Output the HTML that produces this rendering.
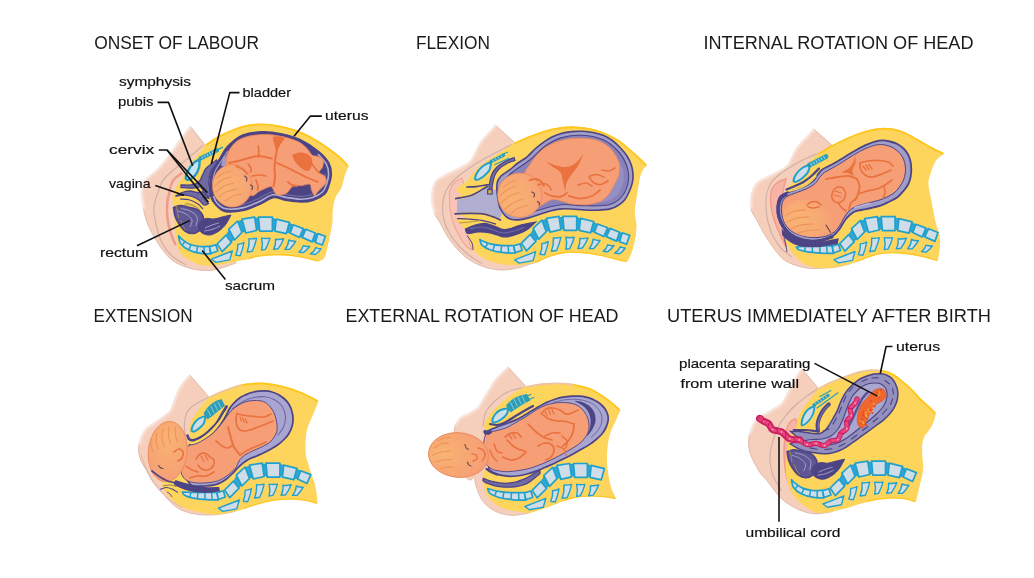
<!DOCTYPE html>
<html lang="en"><head><meta charset="utf-8"><title>Stages of labour</title>
<style>
html,body{margin:0;padding:0;background:#fff;}
body{width:1034px;height:578px;overflow:hidden;}
svg{display:block;}
text{font-family:"Liberation Sans",sans-serif;fill:#111;}
.t{font-size:17.6px;fill:#1a1a1a;}
.l{font-size:12.9px;stroke:#111;stroke-width:0.18px;}
</style></head><body>
<svg width="1034" height="578" viewBox="0 0 1034 578">
<defs>
<filter id="b1" x="-30%" y="-30%" width="160%" height="160%"><feGaussianBlur stdDeviation="1.3"/></filter>
<filter id="b2" x="-40%" y="-40%" width="180%" height="180%"><feGaussianBlur stdDeviation="1.5"/></filter>
<radialGradient id="hd" cx="0.32" cy="0.58" r="0.72"><stop offset="0" stop-color="#F8B373"/><stop offset="0.6" stop-color="#F7AA73"/><stop offset="1" stop-color="#F69F77"/></radialGradient>
<radialGradient id="hd4" cx="0.5" cy="0.3" r="0.72"><stop offset="0" stop-color="#F8B373"/><stop offset="0.55" stop-color="#F7A873"/><stop offset="1" stop-color="#F69F77"/></radialGradient>
<radialGradient id="hd5" cx="0.25" cy="0.5" r="0.72"><stop offset="0" stop-color="#F8B373"/><stop offset="0.5" stop-color="#F7A873"/><stop offset="1" stop-color="#F69F77"/></radialGradient>
</defs>
<rect width="1034" height="578" fill="#fff"/>
<!-- p1 -->
<g><path d="M190 126C188.3 128.2 183.2 134.7 180 139C176.8 143.3 173.8 148.1 171 152C168.2 155.9 165.7 159.3 163 162.5C160.3 165.7 157.8 168.4 155 171C152.2 173.6 148.7 175.7 146.5 178C144.3 180.3 142.9 182 142 185C141.1 188 140.8 192.2 141 196C141.2 199.8 141.8 203.2 143 208C144.2 212.8 145.8 219.7 148 225C150.2 230.3 153.2 235.3 156 240C158.8 244.7 162 249.4 165 253C168 256.6 170.5 259.2 174 261.5C177.5 263.8 182 265.6 186 267C190 268.4 193.8 269.4 198 270C202.2 270.6 206.8 270.7 211 270.3C215.2 269.9 219.2 268.6 223.4 267.4C227.6 266.2 233.9 263.7 236 263L236 250C231.7 241.7 215 217.3 210 200C205 182.7 206.7 155 206 146L190 126Z" fill="#F6CFBC" stroke="#DDB8A8" stroke-width="0.9" stroke-linejoin="round"/><path d="M188.7 125.3C187 127.5 181.9 134 178.7 138.3C175.5 142.6 172.5 147.4 169.7 151.3C166.9 155.2 164.4 158.6 161.7 161.8C159 165 156.4 167.7 153.7 170.3C150.9 172.9 147.4 175 145.2 177.3C143 179.6 141.6 181.3 140.7 184.3C139.8 187.3 139.5 191.5 139.7 195.3C139.9 199.1 141.4 205.3 141.7 207.3" fill="none" stroke="#fff" stroke-width="4.6" filter="url(#b2)" stroke-linecap="round" stroke-opacity="0.9"/><path d="M203.2 145.3C200.2 147.8 190.6 156.2 185.5 160.4C180.4 164.6 176.7 167.1 172.9 170.5C169.1 173.9 165.3 176.8 162.8 180.6C160.3 184.3 159.2 188.6 157.7 193C156.2 197.4 154.4 202.2 154 207C153.6 211.8 154.2 216 155.5 222C156.8 228 159.2 237.3 162 243C164.8 248.7 168 252.3 172 256C176 259.7 183.7 263.5 186 265" fill="none" stroke="#D0B0A4" stroke-width="1.2"/><path d="M181.5 173.3C180.2 174.3 175.7 177.3 173.9 179.4C172.1 181.5 171.6 183.4 170.8 185.7C170 188 169.8 190.6 169.3 193C168.8 195.4 168 197.1 167.6 200C167.2 202.9 166.9 206.5 167 210.3C167.1 214.1 167.4 218.7 168.2 222.9C169 227.1 170.4 231.9 171.6 235.5C172.8 239.1 174.8 242.9 175.4 244.4" fill="none" stroke="#F09A88" stroke-width="2.5" stroke-linecap="round"/><path d="M205.8 144.6C207.3 143.6 211.8 140.2 215 138.3C218.2 136.4 220.2 135.1 225 133C229.8 130.9 237.7 127.1 244 125.6C250.3 124 256.6 123.6 262.9 123.7C269.2 123.8 275.6 124.8 281.9 126.2C288.2 127.6 294.5 129.3 300.8 131.9C307.1 134.5 313.5 138 319.8 142C326.1 146 333.9 151.9 338.7 155.9C343.5 159.9 347.1 164.3 348.8 166C348.2 167.5 346.3 171.2 345 174.9C343.7 178.6 342.8 184.2 341.2 188C339.6 191.8 336.9 193.9 335.5 197.6C334.1 201.3 333.3 206.1 332.8 210.3C332.3 214.5 332.9 218.7 332.4 222.9C331.9 227.1 330.9 231.3 330 235.5C329.1 239.7 328.2 244.4 327.3 248.2C326.4 251.9 325.8 255.8 324.3 258C322.8 260.2 319.5 260.9 318.5 261.5C315.4 260.8 306.6 258.2 300 257.2C293.4 256.1 286.1 255.3 279 255.2C271.9 255.1 262.8 255.9 257.7 256.6C252.6 257.3 252.3 258.4 248.7 259.2C245.1 260 239.9 260.6 236.1 261.3C232.3 262 229.8 262.9 226 263.6C222.2 264.3 217.5 265.3 213.3 265.5C209.1 265.7 204.9 265.9 200.7 264.9C196.5 263.8 191.5 261.4 188 259.2C184.5 257 181.5 254.8 179.6 251.6C177.7 248.4 177.6 244.3 176.7 240.3C175.8 236.3 174.8 231.8 174.4 227.6C174.1 223.4 174.9 219.3 174.6 215C174.3 210.7 173 205.2 172.7 202C172.4 198.8 172.5 197.9 172.8 196C173.1 194.1 173.6 192.7 174.5 190.5C175.4 188.3 176.8 185.3 178.3 183C179.8 180.7 181.7 179.1 183.4 176.6C185.1 174.1 187 170.3 188.4 168C189.8 165.7 190.3 164.8 191.9 162.5C193.5 160.2 195.9 157.1 198.2 154.1C200.5 151.1 204.5 146.2 205.8 144.6Z" fill="#FDD45C"/><path d="M205.8 145.2C207.3 144.1 211.8 140.8 215 138.9C218.2 137 220.2 135.7 225 133.6C229.8 131.5 237.7 127.8 244 126.3C250.3 124.8 256.6 124.3 262.9 124.4C269.2 124.5 275.6 125.5 281.9 126.9C288.2 128.3 294.5 130 300.8 132.6C307.1 135.2 313.5 138.7 319.8 142.7C326.1 146.7 334 152.6 338.7 156.5C343.4 160.4 346.4 164.4 348 166" fill="none" stroke="#FFC61C" stroke-width="1.8"/><path d="M318 261C315 260.3 306.5 257.8 300 256.7C293.5 255.6 286.1 254.8 279 254.7C271.9 254.6 262.8 255.4 257.7 256.1C252.6 256.8 250.2 258.3 248.7 258.7" fill="none" stroke="#FFC61C" stroke-width="1.2"/><g><path d="M178.6 235.8C178.9 237.1 178.9 241 180.5 243.4C182.1 245.7 184.9 248.2 188.3 249.8C191.6 251.5 196.7 252.8 200.5 253.4C204.3 254.1 209.1 253.7 210.8 253.8L209.5 246.3C207.9 246.3 203 246.9 199.6 246.5C196.2 246.1 192.1 245.2 189.1 244C186.1 242.7 183.4 240.3 181.7 239C179.9 237.6 179.1 236.3 178.6 235.8Z" fill="#CEDDE7" stroke="#22A0CC" stroke-width="1.7" stroke-linejoin="round"/><path d="M185.1 241.3L182.4 244.9" fill="none" stroke="#22A0CC" stroke-width="1.5"/><path d="M191 244.4L188.8 250" fill="none" stroke="#22A0CC" stroke-width="1.5"/><path d="M197.6 246L196.6 252.3" fill="none" stroke="#22A0CC" stroke-width="1.5"/><path d="M204 246.4L204.3 253.6" fill="none" stroke="#22A0CC" stroke-width="1.5"/><path d="M209.5 246.6L215.9 244.7L217.8 251L210.8 253.5L209.5 246.6Z" fill="#CEDDE7" stroke="#22A0CC" stroke-width="1.7" stroke-linejoin="round"/><path d="M217.1 244L226 235.2L231.6 242.2L222.2 251.6L217.1 244Z" fill="#CEDDE7" stroke="#22A0CC" stroke-width="1.7" stroke-linejoin="round"/><path d="M226.4 235.8L229.3 230.1L233.9 238.9L231 241.5Z" fill="#2FA6D6" stroke="#22A0CC" stroke-width="1.2" stroke-linejoin="round"/><path d="M238 221.9L242.3 220.2L245.4 231.6L241.6 231.3Z" fill="#2FA6D6" stroke="#22A0CC" stroke-width="1.2" stroke-linejoin="round"/><path d="M254.9 218.3L258.6 218.3L259.6 229.7L256.4 229.2Z" fill="#2FA6D6" stroke="#22A0CC" stroke-width="1.2" stroke-linejoin="round"/><path d="M272.4 218.3L276.1 220.1L275 229.9L272.4 229.7Z" fill="#2FA6D6" stroke="#22A0CC" stroke-width="1.2" stroke-linejoin="round"/><path d="M289.2 223.2L293 225.5L290.4 232.2L286.6 232.5Z" fill="#2FA6D6" stroke="#22A0CC" stroke-width="1.2" stroke-linejoin="round"/><path d="M303 229.3L305.6 229.9L302.5 236.6L299.9 236.5Z" fill="#2FA6D6" stroke="#22A0CC" stroke-width="1.2" stroke-linejoin="round"/><path d="M315.1 233.7L317.7 234.3L315.6 241.6L312.5 241Z" fill="#2FA6D6" stroke="#22A0CC" stroke-width="1.2" stroke-linejoin="round"/><path d="M228.8 229.2L237.6 221L242 232.4L234.5 240L228.8 229.2Z" fill="#CEDDE7" stroke="#22A0CC" stroke-width="1.7" stroke-linejoin="round"/><path d="M242 219.1L254.7 217.2L256.6 230.5L245.8 233L242 219.1Z" fill="#CEDDE7" stroke="#22A0CC" stroke-width="1.7" stroke-linejoin="round"/><path d="M258.5 217.2L272.4 217.2L272.4 231.1L259.7 231.1L258.5 217.2Z" fill="#CEDDE7" stroke="#22A0CC" stroke-width="1.7" stroke-linejoin="round"/><path d="M276.2 219.1L289.4 222.3L286.3 233.6L274.9 231.1L276.2 219.1Z" fill="#CEDDE7" stroke="#22A0CC" stroke-width="1.7" stroke-linejoin="round"/><path d="M293.2 224.8L303.3 228.6L299.5 237.4L290.1 233L293.2 224.8Z" fill="#CEDDE7" stroke="#22A0CC" stroke-width="1.7" stroke-linejoin="round"/><path d="M305.9 229.2L315.3 233L312.2 241.9L302.1 237.4L305.9 229.2Z" fill="#CEDDE7" stroke="#22A0CC" stroke-width="1.7" stroke-linejoin="round"/><path d="M317.9 233.6L325.4 236.2L322.3 245L315.3 242.5L317.9 233.6Z" fill="#CEDDE7" stroke="#22A0CC" stroke-width="1.7" stroke-linejoin="round"/><path d="M237.6 244.4Q240.8 244.2 244 242.5Q242.9 249.2 240.2 255.7L235.7 255.1Q238.2 250 237.6 244.4Z" fill="#CEDDE7" stroke="#22A0CC" stroke-width="1.4" stroke-linejoin="round"/><path d="M249 238.7Q252.8 239.2 256.6 238.1Q255.2 244.8 252.2 251.3L247.1 252Q249.6 245.6 249 238.7Z" fill="#CEDDE7" stroke="#22A0CC" stroke-width="1.4" stroke-linejoin="round"/><path d="M261.6 238.1Q265.8 238.9 269.9 238.1Q268.4 243.8 265.4 249.4L261.6 250.1Q263.2 244.1 261.6 238.1Z" fill="#CEDDE7" stroke="#22A0CC" stroke-width="1.4" stroke-linejoin="round"/><path d="M275.5 239.3Q279.6 239.8 283.7 238.7Q281.7 243.9 278.1 248.8L273.6 249.4Q276.1 244.6 275.5 239.3Z" fill="#CEDDE7" stroke="#22A0CC" stroke-width="1.4" stroke-linejoin="round"/><path d="M288.8 240Q292.3 241.4 295.8 241.2Q293.3 245.6 289.4 249.4L285 249.4Q288.4 245.3 288.8 240Z" fill="#CEDDE7" stroke="#22A0CC" stroke-width="1.4" stroke-linejoin="round"/><path d="M303.3 245.6Q306.5 246.8 309.7 246.3Q307.2 249.9 303.3 252.6L298.9 252Q302.4 249.7 303.3 245.6Z" fill="#CEDDE7" stroke="#22A0CC" stroke-width="1.4" stroke-linejoin="round"/><path d="M316 247.5Q318.5 249 321 248.8Q318.7 252.2 315.3 254.5L310.3 253.9Q314.3 251.8 316 247.5Z" fill="#CEDDE7" stroke="#22A0CC" stroke-width="1.4" stroke-linejoin="round"/><path d="M211.4 259.2L222 255L232.3 251L229.8 259.9L215.9 262.4L211.4 259.2Z" fill="#CEDDE7" stroke="#22A0CC" stroke-width="1.4" stroke-linejoin="round"/></g><g><path d="M173.5 207.5C174.6 207.2 177.2 205.5 180 205.5C182.8 205.5 187 206.8 190 207.5C193 208.2 195.8 208.6 198 210C200.2 211.4 202.2 213.7 203 216C203.8 218.3 203.2 221.5 202.5 224C201.8 226.5 200.8 229.4 199 231C197.2 232.6 194.3 233.5 192 233.5C189.7 233.5 187.2 232.6 185 231C182.8 229.4 180.7 226.5 179 224C177.3 221.5 175.9 218.8 175 216C174.1 213.2 173.8 208.9 173.5 207.5Z" fill="#5E5793" stroke="#4C4485" stroke-width="1.6"/><path d="M231 215C230.2 216.5 228 221.3 226 224C224 226.7 221.7 229.2 219 231C216.3 232.8 212.8 234.7 210 235C207.2 235.3 203.9 234.2 202 233C200.1 231.8 198.8 229.8 198.5 228C198.2 226.2 198.8 223.6 200 222C201.2 220.4 203.7 219 206 218.5C208.3 218 211.3 219.2 214 219C216.7 218.8 219.2 217.7 222 217C224.8 216.3 229.5 215.3 231 215Z" fill="#4C4485" stroke="#4C4485" stroke-width="1"/><path d="M178 211C179.3 211.5 183.7 212.5 186 214C188.3 215.5 191.3 217.8 192 220C192.7 222.2 190.3 225.8 190 227" fill="none" stroke="#A09DC8" stroke-width="1"/><path d="M181 208.5C182.5 208.9 187.3 209.6 190 211C192.7 212.4 196 214.5 197 217C198 219.5 196.2 224.5 196 226" fill="none" stroke="#A09DC8" stroke-width="1"/><path d="M205 228C206.2 227.5 209.7 225.8 212 225C214.3 224.2 217.8 223.3 219 223" fill="none" stroke="#A09DC8" stroke-width="1"/><path d="M204 231C205.3 230.8 209.3 230.3 212 229.5C214.7 228.7 218.7 226.6 220 226" fill="none" stroke="#A09DC8" stroke-width="1"/><path d="M176 206C176.2 207 177.1 210 177.5 212C177.9 214 178.3 217 178.5 218" fill="none" stroke="#B9973F" stroke-width="0.8"/><path d="M184 204C185.3 204.2 189.5 204.8 192 205.5C194.5 206.2 197.8 208 199 208.5" fill="none" stroke="#B9973F" stroke-width="0.8"/><path d="M186 230.5C185.5 229.8 183.9 227.8 183 226C182.1 224.2 180.9 221 180.5 220" fill="none" stroke="#B9973F" stroke-width="0.8"/></g><path d="M175.5 196.3C176.9 196.1 181.2 195 184 195C186.8 195 189.5 195.7 192 196.5C194.5 197.3 197 198.6 199 200C201 201.4 202.4 204.4 204 205C205.6 205.6 207.8 203.8 208.5 203.5C207.6 202.4 202.9 197.8 203 197C203.1 196.2 208 198.2 209 198.5C208.3 197.4 206.8 193 205 192C203.2 191 200.5 192.7 198 192.5C195.5 192.3 192.7 191 190 191C187.3 191 184.4 191.6 182 192.5C179.6 193.4 176.6 195.7 175.5 196.3Z" fill="#6F6AA3" stroke="#4C4485" stroke-width="1.3"/><path d="M180 199C181.7 199.2 187 199.2 190 200C193 200.8 195.8 202.5 198 204C200.2 205.5 202.2 208.2 203 209" fill="none" stroke="#4C4485" stroke-width="1.2"/><path d="M186 203C187.3 203.4 191.7 204.3 194 205.5C196.3 206.7 199 209.2 200 210" fill="none" stroke="#A79245" stroke-width="0.9"/><path d="M216.5 160C215.8 160.6 213.8 162.1 212 163.5C210.2 164.9 207.6 166.6 206 168.5C204.4 170.4 203.6 172.9 202.5 175C201.4 177.1 201.1 179.4 199.5 181C197.9 182.6 196.1 184 193 184.7C189.9 185.4 183 184.9 181 185L181 187.5C183 187.6 189.8 188.3 193 188.2C196.2 188.1 198.2 186.4 200 187C201.8 187.6 202.6 190.3 204 192C205.4 193.7 207.4 197 208.5 197C209.6 197 210.4 194.2 210.5 192C210.6 189.8 209.2 186.7 209 184C208.8 181.3 209 178.5 209.5 176C210 173.5 210.6 171.2 212 169C213.4 166.8 217 164 218 163L216.5 160Z" fill="#6F6AA3" stroke="#4C4485" stroke-width="1.3"/><path d="M199.6 159.6C199.5 160.9 199.8 164.8 199 167.5C198.2 170.2 196.7 173.5 195 175.5C193.3 177.5 190.5 179.1 189 179.6C187.5 180.1 186 179.7 185.8 178.3C185.6 176.9 186.7 173.6 188 171C189.3 168.4 191.6 164.9 193.5 163C195.4 161.1 198.6 160.2 199.6 159.6Z" fill="#C6E2F2" stroke="#2499BE" stroke-width="2.4"/><path d="M200.5 158.3L217 150.3" fill="none" stroke="#2A9DBA" stroke-width="4.2" stroke-linecap="round"/><path d="M201.7 156.2L202.9 158.6" fill="none" stroke="#A9DCEA" stroke-width="1"/><path d="M204.3 155L205.5 157.4" fill="none" stroke="#A9DCEA" stroke-width="1"/><path d="M206.9 153.7L208 156.1" fill="none" stroke="#A9DCEA" stroke-width="1"/><path d="M209.5 152.5L210.6 154.9" fill="none" stroke="#A9DCEA" stroke-width="1"/><path d="M212 151.2L213.2 153.6" fill="none" stroke="#A9DCEA" stroke-width="1"/><path d="M214.6 150L215.8 152.4" fill="none" stroke="#A9DCEA" stroke-width="1"/><path d="M214 151.5L222.5 147.3" fill="none" stroke="#2A9DBA" stroke-width="1.3" stroke-linecap="round"/><path d="M210.1 183.1C210.4 178.9 210.9 174.6 212.6 170.4C214.3 166.2 217.7 161.8 220.2 157.8C222.7 153.8 223.9 150.2 227.7 146.4C231.5 142.6 237.2 137.5 242.9 135.1C248.6 132.7 255.6 132.1 261.9 131.9C268.2 131.7 274.5 132.5 280.8 133.8C287.1 135.1 293.5 136.6 299.8 139.5C306.1 142.4 313.9 147.6 318.7 151.5C323.5 155.4 326.7 159.1 328.8 162.9C330.9 166.7 331.3 170.4 331.3 174.2C331.3 178 329.9 182.3 328.8 185.6C327.7 188.9 327.4 191.4 324.8 193.8C322.2 196.2 317.4 198.8 313.4 200.2C309.4 201.6 305.4 202 300.8 202C296.2 202 290.2 200.9 285.6 200.2C281 199.5 277.2 197 273 197.6C268.8 198.2 265.2 201.9 260.4 204C255.6 206.1 249.9 209.1 244 210.3C238.1 211.6 229.8 212.6 225 211.5C220.2 210.4 217.5 206.6 215.1 204C212.7 201.4 211.5 199.2 210.7 195.7C209.9 192.2 209.8 187.3 210.1 183.1Z" fill="#4C4485" stroke="#4C4485" stroke-width="1.6"/><path d="M213.5 196C214.1 197.2 214.9 200.9 217 203C219.1 205.1 221.6 208 226 208.8C230.4 209.6 237.9 208.8 243.5 207.6C249.1 206.4 254.6 203.5 259.5 201.4C264.4 199.3 268.4 195.5 272.8 194.8C277.2 194.1 281.3 196.7 286 197.4C290.7 198.1 296.4 199.2 300.8 199.2C305.2 199.2 308.9 198.7 312.5 197.5C316.1 196.3 320.2 194.2 322.5 192C324.8 189.8 325.5 187.5 326.5 184.5C327.5 181.5 328.6 177.6 328.6 174.2C328.6 170.8 328.1 167.4 326.3 164C324.5 160.6 319.4 155.7 318 154" fill="none" stroke="#B3B0D5" stroke-width="1.6"/><path d="M216.5 194C217.1 195 218.2 198.1 220 200C221.8 201.9 223.2 204.7 227 205.5C230.8 206.3 237.8 205.8 243 204.6C248.2 203.4 253.6 200.7 258.5 198.6C263.4 196.5 267.8 192.5 272.5 191.8C277.2 191.1 281.8 193.8 286.5 194.6C291.2 195.3 296.6 196.3 300.8 196.3C305 196.3 308.3 195.7 311.5 194.6C314.7 193.5 317.9 191.4 320 189.5C322.1 187.6 322.9 185.6 323.8 183C324.7 180.4 325.3 175.7 325.6 174.2" fill="none" stroke="#6F6AA3" stroke-width="1.3"/><path d="M212.5 183C212.9 181.1 213.4 175.3 215 171.5C216.6 167.7 219.8 163.4 222 160C224.2 156.6 227 152.5 228 151" fill="none" stroke="#A09DC8" stroke-width="1.2"/><path d="M222.5 158.5L229.5 153.5C229.7 154.6 231.1 157.8 230.5 160C229.9 162.2 226.8 165.4 226 166.5L221 166L222.5 158.5Z" fill="#A09DC8"/><path d="M314.5 196C314 195 312.3 191.9 311.5 190C310.7 188.1 311.5 185.1 309.9 184.3C308.3 183.6 304.8 185.2 302 185.5C299.2 185.8 295.6 185.2 293.4 186C291.2 186.8 290.2 189.2 289 190.5C287.8 191.8 287.4 192.8 285.9 193.6C284.4 194.3 281.7 194.9 280 195C278.3 195.1 276.5 194.5 275.8 194.4C275.4 193.7 274.3 191.3 273.5 190C272.7 188.7 272.6 186.7 271 186.5C269.4 186.3 266.1 188.1 264 189C261.9 189.9 260.2 190.8 258.1 191.9C256.1 193 254.7 196 251.7 195.7C248.7 195.4 243.9 193.4 240 190C236.1 186.6 230.2 180.2 228 175C225.8 169.8 226.2 162.8 226.5 158.5C226.8 154.2 228.3 151.8 230 149C231.7 146.2 233.9 143.4 236.6 141.4C239.3 139.4 242.8 138.1 246 137C249.2 135.9 251.8 135.5 255.5 135.1C259.2 134.7 263.8 134.3 268 134.5C272.2 134.7 277 135.6 280.8 136.3C284.6 137.1 287.8 137.9 291 139C294.2 140.1 297.1 141 299.8 142.6C302.5 144.2 304.9 146.4 307 148.5C309.1 150.6 310.6 154 312.4 155.3C314.2 156.6 316.2 155.7 318 156.5C319.8 157.3 322.2 158.2 323 160C323.8 161.8 323.2 164.9 322.5 167C321.8 169.1 318.7 171 319 172.5C319.3 174 323.3 174.4 324.5 176C325.7 177.6 326.7 180.1 326.3 182C325.9 183.9 323.3 186.1 322 187.5C320.7 188.9 319.9 189.1 318.7 190.5C317.4 191.9 315.2 195.1 314.5 196Z" fill="#F69F77" stroke="#EE8552" stroke-width="0.8"/><ellipse cx="232.2" cy="185.8" rx="19.8" ry="21.3" fill="url(#hd)" stroke="#EE8552" stroke-width="0.7"/><path d="M292 155C293.2 154.6 296.7 152.8 299 152.5C301.3 152.2 303.9 152.6 306 153.5C308.1 154.4 310.5 156.1 311.5 158C312.5 159.9 312.6 162.8 312 165C311.4 167.2 309.8 170.5 308 171C306.2 171.5 303.2 169.6 301 168C298.8 166.4 296.5 163.7 295 161.5C293.5 159.3 292.5 156.1 292 155Z" fill="#E9723F"/><path d="M272.5 137C273.4 136.9 275.9 136.1 278 136.3C280.1 136.5 283.8 137.7 285 138C284.1 139.3 280.9 143.5 279.5 146C278.1 148.5 277.2 151.8 276.8 153C276.4 151.7 275.2 147.7 274.5 145C273.8 142.3 272.8 138.3 272.5 137Z" fill="#E9723F"/><path d="M229 163C230.8 162.6 236.3 161.4 240 160.5C243.7 159.6 247.8 158.2 251 157.5C254.2 156.8 255.5 155.8 259 156C262.5 156.2 269.8 158.1 272 158.5" fill="none" stroke="#E9723F" stroke-width="2" stroke-linecap="round"/><path d="M258.3 146C258.4 146.8 258.8 149.2 258.8 151C258.8 152.8 258.6 156 258.5 157" fill="none" stroke="#E9723F" stroke-width="1.7" stroke-linecap="round"/><path d="M276.8 150C276.6 151.3 275.9 155 275.5 158C275.1 161 274.6 164.7 274.5 168C274.4 171.3 275.2 175 275 178C274.8 181 273.8 184.7 273.5 186" fill="none" stroke="#E9723F" stroke-width="2.1" stroke-linecap="round"/><path d="M277 163C278.5 163.7 282.7 165.4 286 167C289.3 168.6 293.3 170.7 297 172.5C300.7 174.3 304.5 176.4 308 178C311.5 179.6 316.3 181.3 318 182" fill="none" stroke="#E9723F" stroke-width="1.8" stroke-linecap="round"/><path d="M248 164C248.5 164.7 250.6 166.7 251 168C251.4 169.3 250.6 171.3 250.5 172" fill="none" stroke="#E9723F" stroke-width="1.6" stroke-linecap="round"/><path d="M252 176C253.2 175.8 256.7 175 259 175C261.3 175 264.8 175.8 266 176" fill="none" stroke="#E9723F" stroke-width="1.6" stroke-linecap="round"/><path d="M256 180C256.3 181 257.8 184.3 258 186C258.2 187.7 257.6 189.3 257.5 190" fill="none" stroke="#E9723F" stroke-width="1.8" stroke-linecap="round"/><path d="M288 182C288.7 182.5 290.5 184.3 292 185C293.5 185.7 296.2 185.8 297 186" fill="none" stroke="#E9723F" stroke-width="2.1" stroke-linecap="round"/><path d="M311 163C311.7 163.8 313.8 166.5 315 168C316.2 169.5 317.5 171.3 318 172" fill="none" stroke="#E9723F" stroke-width="1.7" stroke-linecap="round"/><path d="M236 166C237.2 166.6 241.2 168.2 243 169.5C244.8 170.8 246.3 173.2 247 174" fill="none" stroke="#E9723F" stroke-width="1.6" stroke-linecap="round"/><path d="M244.5 176C244.9 176.3 246.5 177.2 246.8 178C247.1 178.8 246.6 180.5 246.5 181" fill="none" stroke="#6B4A4A" stroke-width="1.2" stroke-linecap="round"/><path d="M250.5 185C250.8 185.3 252.2 186.2 252.5 187C252.8 187.8 252.1 189.1 252 189.5" fill="none" stroke="#6B4A4A" stroke-width="1.2" stroke-linecap="round"/><path d="M215 186C216.2 185 219.3 181.5 222 180C224.7 178.5 229.5 177.5 231 177" fill="none" stroke="#EE9458" stroke-width="1.1" stroke-linecap="round"/><path d="M216 192C217.3 191 221 187.5 224 186C227 184.5 232.3 183.5 234 183" fill="none" stroke="#EE9458" stroke-width="1.1" stroke-linecap="round"/><path d="M219 197C220.3 196.1 224 192.8 227 191.5C230 190.2 235.3 189.4 237 189" fill="none" stroke="#EE9458" stroke-width="1.1" stroke-linecap="round"/><path d="M225 201C226.2 200.2 229.3 197.7 232 196.5C234.7 195.3 239.5 194.4 241 194" fill="none" stroke="#EE9458" stroke-width="1.1" stroke-linecap="round"/><path d="M217 178C218 177.2 220.8 174.6 223 173.5C225.2 172.4 228.8 171.8 230 171.5" fill="none" stroke="#EE9458" stroke-width="1.1" stroke-linecap="round"/><polyline points="157.5,102.4 168.5,102.4 192.7,165.7" fill="none" stroke="#111" stroke-width="1.6" stroke-linejoin="round"/><polyline points="239.5,92.6 229.8,92.6 211.3,164" fill="none" stroke="#111" stroke-width="1.6" stroke-linejoin="round"/><polyline points="321.9,116.1 310.5,116.1 294,136.2" fill="none" stroke="#111" stroke-width="1.6" stroke-linejoin="round"/><polyline points="158.8,150 167,150 208.4,202.2" fill="none" stroke="#111" stroke-width="1.6" stroke-linejoin="round"/><polyline points="167,150 207.4,192.6" fill="none" stroke="#111" stroke-width="1.6" stroke-linejoin="round"/><polyline points="155.3,185.4 184,195.3" fill="none" stroke="#111" stroke-width="1.6" stroke-linejoin="round"/><polyline points="137,245.8 189.6,220.6" fill="none" stroke="#111" stroke-width="1.6" stroke-linejoin="round"/><polyline points="225.4,279.6 202.2,250.6" fill="none" stroke="#111" stroke-width="1.6" stroke-linejoin="round"/></g>
<!-- p2 -->
<g><path d="M495.2 124.9C493.8 126.4 489.5 131.2 487 134C484.5 136.8 482.3 138.9 480.3 141.9C478.3 144.9 476.8 148.8 475 152C473.2 155.2 472.5 158.3 469.7 161C466.9 163.7 461.9 165.9 458 168C454.1 170.1 450 171.8 446.3 173.8C442.6 175.8 438.4 177.3 436 180C433.6 182.7 432.8 186.1 432 190C431.2 193.9 431.1 199.8 431.4 203.6C431.7 207.4 432.6 209.8 434 213C435.4 216.2 437.9 219.1 439.9 222.6C441.9 226.1 443.9 230.5 446 234C448.1 237.5 450.4 240.8 452.7 243.8C455 246.8 457.5 249.5 460 252C462.5 254.5 464.6 256.6 467.6 258.7C470.6 260.8 474.5 262.9 478 264.5C481.5 266.1 485.1 267.4 488.8 268.3C492.5 269.2 496.4 269.8 500 270C503.6 270.2 506.8 269.8 510.1 269.4C513.4 269 517.2 268.2 520 267.5C522.8 266.8 523.8 266.2 527.1 265.1C530.4 264 537.9 261.7 540 261L540 250C535.8 241.7 519.2 217.8 515 200C510.8 182.2 515 152.5 515 143L495.2 124.9Z" fill="#F6CFBC" stroke="#DDB8A8" stroke-width="0.9" stroke-linejoin="round"/><path d="M493.9 124.2C492.5 125.7 488.2 130.5 485.7 133.3C483.2 136.1 481 138.2 479 141.2C477 144.2 475.5 148.1 473.7 151.3C471.9 154.5 471.2 157.6 468.4 160.3C465.6 163 460.6 165.2 456.7 167.3C452.8 169.4 448.7 171.1 445 173.1C441.3 175.1 437.1 176.6 434.7 179.3C432.3 182 431.5 185.4 430.7 189.3C429.9 193.2 429.8 199.1 430.1 202.9C430.4 206.7 432.3 210.7 432.7 212.3" fill="none" stroke="#fff" stroke-width="4.6" filter="url(#b2)" stroke-linecap="round" stroke-opacity="0.9"/><path d="M512 144.5C509.5 145.8 502.2 149.3 497 152C491.8 154.7 486.1 157.5 481 160.5C475.9 163.5 471 166.8 466.5 170C462 173.2 457.5 176.3 454 180C450.5 183.7 447.4 187.5 445.5 192C443.6 196.5 442.8 202 442.6 207C442.4 212 443.3 217.5 444.5 222C445.7 226.5 447.6 230 450 234C452.4 238 455.7 242.3 459 246C462.3 249.7 466.2 253.1 470 256C473.8 258.9 480 262.2 482 263.5" fill="none" stroke="#D0B0A4" stroke-width="1.2"/><path d="M462 178C460.8 178.7 457 180 455 182C453 184 450.9 187 450 190C449.1 193 449.4 196.3 449.5 200C449.6 203.7 449.8 207.8 450.5 212C451.2 216.2 452.4 220.8 454 225C455.6 229.2 458 233.5 460 237C462 240.5 464 243.8 466 246C468 248.2 470.8 249.3 471.8 250C471.2 247.5 469 240.8 468 235C467 229.2 466.3 221.7 466 215C465.7 208.3 466.7 201.2 466 195C465.3 188.8 462.7 180.8 462 178Z" fill="#F8C4B7" stroke="#F2A798" stroke-width="1.2"/><path d="M514.4 143C517.2 141.8 525 137.9 531.4 135.5C537.8 133.1 545.6 130.2 552.7 128.7C559.8 127.2 566.9 126.4 574 126.6C581.1 126.8 588.1 127.6 595.2 129.6C602.3 131.6 610.1 134.9 616.5 138.7C622.9 142.5 628.4 148.2 633.5 152.6C638.6 157 644.8 162.9 647 165C646 166.5 642.5 169.7 641 174C639.5 178.3 638.8 184.3 637.8 190.6C636.8 196.9 635 206.2 634.8 211.9C634.6 217.6 636.5 220.3 636.5 225C636.5 229.7 635.8 235.3 635 240C634.2 244.7 632.8 249.3 631.5 253C630.2 256.7 627.8 260.5 627.1 262C625.6 261.7 622.3 261.1 618 260.1C613.7 259.1 607 257.1 601.5 256C596 254.9 590.6 254.1 585.1 253.5C579.6 252.9 574.2 252.3 568.7 252.7C563.2 253.1 557.7 254.4 552.2 256C546.7 257.6 540.3 261.1 535.8 262.5C531.3 263.9 528.6 264.2 525 264.6C521.4 265 518.6 265.2 514.4 265.1C510.1 265 504.5 265.1 499.5 264C494.5 262.9 488.7 260.7 484.6 258.7C480.5 256.7 477.4 254.4 475 252C472.6 249.6 471.7 247.1 470.5 244C469.3 240.9 469 236.2 467.6 233.2C466.2 230.2 464 228.3 462 226C460 223.7 456.6 220.6 455.5 219.5C457.2 219.2 466.1 218.4 466 217.5C465.9 216.6 456.8 214.8 455 214.2C456.2 212.8 461.9 208.8 462 206C462.1 203.2 456.4 199 455.3 197.6C456.2 197.1 460.8 195.5 461 194.5C461.2 193.5 457.2 192 456.5 191.5C456.8 190.8 456.6 188.9 458.5 187C460.4 185.1 464.3 183.5 467.6 180.2C470.9 176.9 473.6 171.5 478.2 167.4C482.8 163.3 489.2 159.8 495.2 155.7C501.2 151.6 511.2 145.1 514.4 143Z" fill="#FDD45C"/><path d="M514.4 143.6C517.2 142.3 525 138.5 531.4 136.1C537.8 133.7 545.6 130.9 552.7 129.4C559.8 127.9 566.9 127.1 574 127.3C581.1 127.5 588.1 128.3 595.2 130.3C602.3 132.3 610.1 135.6 616.5 139.4C622.9 143.2 628.6 148.9 633.5 153.2C638.4 157.5 643.9 163 646 165" fill="none" stroke="#FFC61C" stroke-width="1.8"/><path d="M626 261.5C624.7 261.2 622.1 260.6 618 259.6C613.9 258.6 607 256.6 601.5 255.5C596 254.4 590.6 253.6 585.1 253C579.6 252.4 574.2 251.8 568.7 252.2C563.2 252.6 557.7 253.9 552.2 255.5C546.7 257.1 538.5 260.9 535.8 262" fill="none" stroke="#FFC61C" stroke-width="1.2"/><g transform="translate(304.3 -0.8)" ><path d="M175.6 240.3C176 241.2 176 244.2 177.7 246C179.5 247.7 182.5 249.6 186.2 250.8C189.8 252.1 195.4 253 199.5 253.5C203.6 254 208.9 253.8 210.8 253.8L209.5 246.3C207.7 246.3 202.4 246.6 198.7 246.4C194.9 246.2 190.4 245.7 187.1 245C183.8 244.3 180.9 242.9 179 242.1C177.1 241.3 176.2 240.6 175.6 240.3Z" fill="#CEDDE7" stroke="#22A0CC" stroke-width="1.7" stroke-linejoin="round"/><path d="M183.6 243.7L181.3 248" fill="none" stroke="#22A0CC" stroke-width="1.5"/><path d="M190.4 245.4L188.6 251.3" fill="none" stroke="#22A0CC" stroke-width="1.5"/><path d="M197.3 246.2L196.6 252.9" fill="none" stroke="#22A0CC" stroke-width="1.5"/><path d="M203.9 246.4L204.3 253.6" fill="none" stroke="#22A0CC" stroke-width="1.5"/><path d="M209.5 246.6L215.9 244.7L217.8 251L210.8 253.5L209.5 246.6Z" fill="#CEDDE7" stroke="#22A0CC" stroke-width="1.7" stroke-linejoin="round"/><path d="M217.1 244L226 235.2L231.6 242.2L222.2 251.6L217.1 244Z" fill="#CEDDE7" stroke="#22A0CC" stroke-width="1.7" stroke-linejoin="round"/><path d="M226.4 235.8L229.3 230.1L233.9 238.9L231 241.5Z" fill="#2FA6D6" stroke="#22A0CC" stroke-width="1.2" stroke-linejoin="round"/><path d="M238 221.9L242.3 220.2L245.4 231.6L241.6 231.3Z" fill="#2FA6D6" stroke="#22A0CC" stroke-width="1.2" stroke-linejoin="round"/><path d="M254.9 218.3L258.6 218.3L259.6 229.7L256.4 229.2Z" fill="#2FA6D6" stroke="#22A0CC" stroke-width="1.2" stroke-linejoin="round"/><path d="M272.4 218.3L276.1 220.1L275 229.9L272.4 229.7Z" fill="#2FA6D6" stroke="#22A0CC" stroke-width="1.2" stroke-linejoin="round"/><path d="M289.2 223.2L293 225.5L290.4 232.2L286.6 232.5Z" fill="#2FA6D6" stroke="#22A0CC" stroke-width="1.2" stroke-linejoin="round"/><path d="M303 229.3L305.6 229.9L302.5 236.6L299.9 236.5Z" fill="#2FA6D6" stroke="#22A0CC" stroke-width="1.2" stroke-linejoin="round"/><path d="M315.1 233.7L317.7 234.3L315.6 241.6L312.5 241Z" fill="#2FA6D6" stroke="#22A0CC" stroke-width="1.2" stroke-linejoin="round"/><path d="M228.8 229.2L237.6 221L242 232.4L234.5 240L228.8 229.2Z" fill="#CEDDE7" stroke="#22A0CC" stroke-width="1.7" stroke-linejoin="round"/><path d="M242 219.1L254.7 217.2L256.6 230.5L245.8 233L242 219.1Z" fill="#CEDDE7" stroke="#22A0CC" stroke-width="1.7" stroke-linejoin="round"/><path d="M258.5 217.2L272.4 217.2L272.4 231.1L259.7 231.1L258.5 217.2Z" fill="#CEDDE7" stroke="#22A0CC" stroke-width="1.7" stroke-linejoin="round"/><path d="M276.2 219.1L289.4 222.3L286.3 233.6L274.9 231.1L276.2 219.1Z" fill="#CEDDE7" stroke="#22A0CC" stroke-width="1.7" stroke-linejoin="round"/><path d="M293.2 224.8L303.3 228.6L299.5 237.4L290.1 233L293.2 224.8Z" fill="#CEDDE7" stroke="#22A0CC" stroke-width="1.7" stroke-linejoin="round"/><path d="M305.9 229.2L315.3 233L312.2 241.9L302.1 237.4L305.9 229.2Z" fill="#CEDDE7" stroke="#22A0CC" stroke-width="1.7" stroke-linejoin="round"/><path d="M317.9 233.6L325.4 236.2L322.3 245L315.3 242.5L317.9 233.6Z" fill="#CEDDE7" stroke="#22A0CC" stroke-width="1.7" stroke-linejoin="round"/><path d="M237.6 244.4Q240.8 244.2 244 242.5Q242.9 249.2 240.2 255.7L235.7 255.1Q238.2 250 237.6 244.4Z" fill="#CEDDE7" stroke="#22A0CC" stroke-width="1.4" stroke-linejoin="round"/><path d="M249 238.7Q252.8 239.2 256.6 238.1Q255.2 244.8 252.2 251.3L247.1 252Q249.6 245.6 249 238.7Z" fill="#CEDDE7" stroke="#22A0CC" stroke-width="1.4" stroke-linejoin="round"/><path d="M261.6 238.1Q265.8 238.9 269.9 238.1Q268.4 243.8 265.4 249.4L261.6 250.1Q263.2 244.1 261.6 238.1Z" fill="#CEDDE7" stroke="#22A0CC" stroke-width="1.4" stroke-linejoin="round"/><path d="M275.5 239.3Q279.6 239.8 283.7 238.7Q281.7 243.9 278.1 248.8L273.6 249.4Q276.1 244.6 275.5 239.3Z" fill="#CEDDE7" stroke="#22A0CC" stroke-width="1.4" stroke-linejoin="round"/><path d="M288.8 240Q292.3 241.4 295.8 241.2Q293.3 245.6 289.4 249.4L285 249.4Q288.4 245.3 288.8 240Z" fill="#CEDDE7" stroke="#22A0CC" stroke-width="1.4" stroke-linejoin="round"/><path d="M303.3 245.6Q306.5 246.8 309.7 246.3Q307.2 249.9 303.3 252.6L298.9 252Q302.4 249.7 303.3 245.6Z" fill="#CEDDE7" stroke="#22A0CC" stroke-width="1.4" stroke-linejoin="round"/><path d="M316 247.5Q318.5 249 321 248.8Q318.7 252.2 315.3 254.5L310.3 253.9Q314.3 251.8 316 247.5Z" fill="#CEDDE7" stroke="#22A0CC" stroke-width="1.4" stroke-linejoin="round"/><path d="M210.4 260.7L221 256.5L231.3 252.5L228.8 261.4L214.9 263.9L210.4 260.7Z" fill="#CEDDE7" stroke="#22A0CC" stroke-width="1.4" stroke-linejoin="round"/></g><path d="M465.4 229C466.8 228.4 470.8 226.4 474 225.5C477.2 224.6 481.3 223.3 484.6 223.4C487.9 223.5 490.8 225 494 226C497.2 227 500.7 229.3 503.7 229.6C506.7 229.9 509.2 228.8 512 228C514.8 227.2 516.8 226 520.7 225C524.6 224 533.1 222.5 535.6 222C534.3 223.2 530.8 227 528 229C525.2 231 522.3 232.5 518.6 233.8C514.9 235.1 509.5 236.8 505.9 237C502.3 237.2 499.9 235.7 497 235C494.1 234.3 492 233.1 488.8 232.6C485.6 232.1 481.5 231.9 478 232C474.5 232.1 469.7 233.9 467.6 233.4C465.5 232.9 465.8 229.7 465.4 229Z" fill="#4C4485" stroke="#4C4485" stroke-width="1.2"/><path d="M470 229C472 228.7 478.3 226.9 482 227C485.7 227.1 488.5 228.5 492 229.5C495.5 230.5 499.3 232.8 503 233C506.7 233.2 510.5 231.9 514 231C517.5 230.1 522.3 228.1 524 227.5" fill="none" stroke="#6F6AA3" stroke-width="1.2"/><path d="M467 235.5C467.8 236.8 471 240.6 472 243C473 245.4 472.8 248.8 473 250" fill="none" stroke="#4C4485" stroke-width="1"/><path d="M457.4 199.8C459.2 199.4 465.3 198.2 468.4 197.3C471.5 196.4 473.6 195.5 476.2 194.2C478.8 192.9 481.9 190.6 483.9 189.5C485.9 188.4 487.3 187.8 488 187.4C488.8 187.8 491.5 189.7 493 190C494.5 190.3 496.3 189.2 497 189C497.3 191.3 498 199.1 498.8 203C499.6 206.9 501.6 210 501.8 212.6C502 215.2 500.3 217.6 500 218.6C498.8 218.1 495.6 216.5 492.8 215.5C490 214.5 487.1 213.3 483.1 212.8C479.1 212.3 473 212.3 468.6 212.3C464.2 212.3 458.8 212.7 456.8 212.8L457.4 199.8Z" fill="#B0AED1"/><path d="M455.7 198.6C457.8 198.2 465 197.1 468.4 196.2C471.8 195.3 473.6 194.3 476.2 193C478.8 191.7 482 189.5 483.9 188.4C485.8 187.3 486.9 186.9 487.5 186.6" fill="none" stroke="#4C4485" stroke-width="1.7" stroke-linecap="round"/><path d="M455 213.8C457.3 213.7 463.9 213.4 468.6 213.4C473.3 213.4 479.1 213.3 483.1 213.8C487.1 214.3 489.9 215.6 492.8 216.6C495.7 217.6 499.2 219.4 500.5 220" fill="none" stroke="#4C4485" stroke-width="1.7" stroke-linecap="round"/><path d="M466.8 187C468.3 186.9 473.1 186.9 476 186.6C478.9 186.3 481.6 185.7 484 185.3C486.4 185 489.2 184.6 490.2 184.5" fill="none" stroke="#4C4485" stroke-width="1.6" stroke-linecap="round"/><path d="M457 218.6C459.2 218.7 465.5 218.8 470 219.2C474.5 219.6 479.7 220 484 220.8C488.3 221.6 494 223.6 496 224.2" fill="none" stroke="#4C4485" stroke-width="1.2"/><path d="M459 223C460.8 222.8 466.5 222.4 470 222C473.5 221.6 478.3 220.8 480 220.5" fill="none" stroke="#A58F43" stroke-width="0.9"/><path d="M515 160.5C513.7 161 509.7 162.1 507 163.5C504.3 164.9 501.1 166.9 499 169C496.9 171.1 495.6 173.3 494.5 176C493.4 178.7 493 182.2 492.5 185C492 187.8 491.7 191.7 491.5 193L488.5 193C488.7 191.5 489 187 489.5 184C490 181 490.3 177.8 491.5 175C492.7 172.2 494.2 169.8 496.5 167.5C498.8 165.2 502.1 163.2 505 161.5C507.9 159.8 512.5 158.2 514 157.5L515 160.5Z" fill="#6F6AA3" stroke="#4C4485" stroke-width="1.2"/><rect x="487.6" y="189.5" width="4.6" height="4.6" fill="#C9A94E" stroke="#4C4485" stroke-width="1.1"/><path d="M491.2 162C490.9 163.3 490.7 167.7 489.5 170C488.3 172.3 485.9 174.4 484 176C482.1 177.6 479.5 179.2 478 179.6C476.5 180 474.9 180 475 178.5C475.1 177 476.9 172.8 478.5 170.5C480.1 168.2 482.4 166.4 484.5 165C486.6 163.6 490.1 162.5 491.2 162Z" fill="#CEDDE7" stroke="#22A0CC" stroke-width="2"/><path d="M491 161.5L503.5 155.3" fill="none" stroke="#2A9DBA" stroke-width="3.2" stroke-linecap="round"/><path d="M492.5 159.6L493.4 161.4" fill="none" stroke="#A9DCEA" stroke-width="1"/><path d="M495.4 158.2L496.3 160" fill="none" stroke="#A9DCEA" stroke-width="1"/><path d="M498.2 156.8L499.1 158.6" fill="none" stroke="#A9DCEA" stroke-width="1"/><path d="M501.1 155.4L502 157.2" fill="none" stroke="#A9DCEA" stroke-width="1"/><path d="M495 164.5L508.5 158.5" fill="none" stroke="#2A9DBA" stroke-width="1.3" stroke-linecap="round"/><path d="M502 154.5L507.5 152.3" fill="none" stroke="#2A9DBA" stroke-width="1.2" stroke-linecap="round"/><path d="M497.3 182.3C498 179.6 498.9 178.1 501 176C503.1 173.9 507.2 171.8 510 169.6C512.8 167.4 515.1 165.1 518 163C520.9 160.9 524.3 159.1 527.1 156.8C529.9 154.5 532.2 151.5 535 149C537.8 146.5 541.3 143.9 544.1 141.9C546.9 139.9 549.1 138.4 552 137C554.9 135.6 558 134.3 561.2 133.4C564.4 132.5 567.5 131.9 571 131.6C574.5 131.2 578.7 131.2 582.4 131.3C586.1 131.5 589.5 131.8 593 132.5C596.5 133.2 600.4 134.1 603.7 135.5C607 136.9 610.2 138.9 613 141C615.8 143.1 618.4 145.8 620.7 148.3C623 150.8 625.2 153.2 627 156C628.8 158.8 630.4 162.3 631.4 165.3C632.4 168.3 632.8 171.2 633 174C633.2 176.8 633 179.5 632.4 182.3C631.8 185.1 630.7 188.2 629.5 191C628.3 193.8 626.9 197 625 199.4C623.1 201.8 620.5 203.9 618 205.5C615.5 207.1 613.6 208.1 610.1 208.9C606.6 209.7 601.2 210 597 210.2C592.8 210.4 588.8 210.2 584.6 210C580.4 209.8 575.9 209.2 572 209C568.1 208.8 564.9 208.6 561.2 208.9C557.5 209.2 553.5 210.1 550 211C546.5 211.9 543.2 213.2 539.9 214.3C536.6 215.4 533.2 216.6 530 217.5C526.8 218.4 523.7 219.3 520.7 219.6C517.7 219.9 514.5 220 512 219.5C509.5 219 507.8 218.2 505.9 216.4C504 214.7 501.8 211.5 500.5 209C499.2 206.5 499 204.3 498.4 201.5C497.8 198.7 497.2 195.2 497 192C496.8 188.8 496.6 185 497.3 182.3Z" fill="#A09DC8" stroke="#4C4485" stroke-width="1.6"/><path d="M501.5 185C503.1 180.2 507.4 176.6 512 172.5C516.6 168.4 523.3 165 529 160.5C534.7 156 540.5 149.3 546 145.5C551.5 141.7 555.9 139.3 562 137.6C568.1 135.9 575.7 135 582.4 135.3C589.1 135.6 596.1 136.8 602 139.3C607.9 141.8 613.3 146 617.5 150.5C621.7 155 625.2 161.2 627 166.5C628.8 171.8 629.1 176.9 628.2 182C627.3 187.1 624.7 193.2 621.5 197C618.3 200.8 615.1 203.2 609 204.7C602.9 206.2 592.6 205.8 584.6 205.8C576.6 205.8 568.6 204 561 204.7C553.4 205.4 545.7 208.2 539 210C532.3 211.8 525.8 214.9 520.7 215.4C515.6 215.9 511.5 215.3 508.5 213C505.5 210.7 503.7 206.2 502.5 201.5C501.3 196.8 499.9 189.8 501.5 185Z" fill="#8781BB" stroke="#4C4485" stroke-width="1.1"/><path d="M613 153C614.7 151.5 620.2 161.3 622 166C623.8 170.7 624.2 176.3 623.5 181C622.8 185.7 620.8 190.7 618 194C615.2 197.3 611.7 199.6 607 201C602.3 202.4 591.8 204.3 590 202.5C588.2 200.7 592.3 194.6 596 190C599.7 185.4 609.2 181.2 612 175C614.8 168.8 611.3 154.5 613 153Z" fill="#958FC4"/><path d="M524 176C524.7 170.2 527.3 168.6 529.3 165.3C531.3 162 533.5 158.8 536 156C538.5 153.2 540.8 150.6 544.1 148.3C547.4 146 551.7 143.6 556 142C560.3 140.4 565.2 139.3 569.7 138.7C574.2 138.1 578.8 138 583 138.2C587.2 138.4 591.5 138.8 595.2 139.8C598.9 140.8 602.2 142.2 605 144C607.8 145.8 610.1 147.9 612.2 150.4C614.3 152.9 616.2 156.2 617.5 159C618.8 161.8 619.5 164.6 619.7 167.4C619.9 170.2 619.4 173.2 618.5 176C617.6 178.8 615.8 181.8 614.4 184.5C613 187.2 611.8 190 610 192.5C608.2 195 606 197.7 603.7 199.4C601.4 201.2 598.8 202.1 596 203C593.2 203.9 589.7 204.4 586.7 204.7C583.7 205 580.8 204.8 578 204.6C575.2 204.4 572.5 204.2 569.7 203.6C566.9 203 563.8 201.7 561 201C558.2 200.3 555.2 199.2 552.7 199.4C550.2 199.7 548.5 201.4 546 202.5C543.5 203.6 541.5 206.4 538 206C534.5 205.6 527.3 205 525 200C522.7 195 523.3 181.8 524 176Z" fill="#F69F77" stroke="#EE8552" stroke-width="0.8"/><circle cx="519.8" cy="195.2" r="22.2" fill="url(#hd)" stroke="#EE8552" stroke-width="0.7"/><path d="M545 161C546.8 161.8 552.5 164.5 556 165.5C559.5 166.5 562.8 167.3 566 167C569.2 166.7 572.1 165.7 575 163.5C577.9 161.3 582.1 155.6 583.5 154C582.6 156 579.9 162.7 578 166C576.1 169.3 573.9 171.2 572 174C570.1 176.8 567.6 180 566.5 183C565.4 186 565.7 190.5 565.5 192C565.1 190.3 563.8 185.2 563 182C562.2 178.8 562.2 175 560.5 172.5C558.8 170 555.6 168.9 553 167C550.4 165.1 546.3 162 545 161Z" fill="#E9723F"/><path d="M529.5 180C530.6 179.8 534.1 178.8 536 179C537.9 179.2 539.7 180.3 541 181.5C542.3 182.7 543.5 185.2 544 186" fill="none" stroke="#E9723F" stroke-width="1.8" stroke-linecap="round"/><path d="M538 185C539 184.8 542.2 183.3 544 183.5C545.8 183.7 547.8 184.9 549 186C550.2 187.1 550.7 189.3 551 190" fill="none" stroke="#E9723F" stroke-width="1.6" stroke-linecap="round"/><path d="M545 193C546.2 193.5 549.3 195.4 552 196C554.7 196.6 558.5 197 561 196.5C563.5 196 566 193.6 567 193" fill="none" stroke="#E9723F" stroke-width="1.8" stroke-linecap="round"/><path d="M569 196C570.8 196.4 576.2 198.5 580 198.5C583.8 198.5 588.7 197.4 592 196C595.3 194.6 598.7 191 600 190" fill="none" stroke="#E9723F" stroke-width="1.8" stroke-linecap="round"/><path d="M589 177C589.8 178 592 181.8 594 183C596 184.2 598.7 184.8 601 184.5C603.3 184.2 606.8 181.6 608 181" fill="none" stroke="#E9723F" stroke-width="1.7" stroke-linecap="round"/><path d="M590 176C591.2 175.8 594.7 174.3 597 174.5C599.3 174.7 602.8 176.6 604 177" fill="none" stroke="#E9723F" stroke-width="1.6" stroke-linecap="round"/><path d="M578 185C579.3 184.7 583.7 182.8 586 183C588.3 183.2 591 185.5 592 186" fill="none" stroke="#E9723F" stroke-width="1.6" stroke-linecap="round"/><path d="M602 170C603.2 170.2 606.8 171.3 609 171C611.2 170.7 614 168.5 615 168" fill="none" stroke="#E9723F" stroke-width="1.6" stroke-linecap="round"/><path d="M532 192C532.4 192.3 534.2 193.2 534.5 194C534.8 194.8 533.9 196.5 533.8 197" fill="none" stroke="#6B4A4A" stroke-width="1.2" stroke-linecap="round"/><path d="M537.5 201.5C537.8 201.8 539.2 202.4 539.5 203C539.8 203.6 539.1 204.7 539 205" fill="none" stroke="#6B4A4A" stroke-width="1.2" stroke-linecap="round"/><path d="M500 196C501.2 195 504.3 191.7 507 190C509.7 188.3 514.5 186.7 516 186" fill="none" stroke="#EE9458" stroke-width="1.1" stroke-linecap="round"/><path d="M501 203C502.3 201.9 506 198.2 509 196.5C512 194.8 517.3 193.2 519 192.5" fill="none" stroke="#EE9458" stroke-width="1.1" stroke-linecap="round"/><path d="M505 209C506.3 208 510 204.7 513 203C516 201.3 521.3 199.7 523 199" fill="none" stroke="#EE9458" stroke-width="1.1" stroke-linecap="round"/><path d="M511 213.5C512.2 212.7 515.3 209.8 518 208.5C520.7 207.2 525.5 206 527 205.5" fill="none" stroke="#EE9458" stroke-width="1.1" stroke-linecap="round"/><path d="M503 188C504 187.2 506.8 184.2 509 183C511.2 181.8 514.8 180.9 516 180.5" fill="none" stroke="#EE9458" stroke-width="1.1" stroke-linecap="round"/></g>
<!-- p3 -->
<g><path d="M813.4 128.7C812 130.2 807.7 135.1 805 138C802.3 140.9 799.6 143.2 797.4 146.2C795.2 149.2 793.8 152.8 792 156C790.2 159.2 789.6 162.6 786.8 165.3C784 168.1 778.9 170.4 775 172.5C771.1 174.6 766.6 176.3 763.4 178.1C760.2 179.8 757.8 181.2 756 183C754.2 184.8 753.8 186.2 752.8 188.7C751.8 191.2 750.7 194.8 750.3 198C749.9 201.2 750.1 205 750.6 207.7C751.1 210.4 751.9 211.9 753 214C754.1 216.1 755.5 217.7 757 220.4C758.5 223.1 760.2 226.8 762 230C763.8 233.2 765.5 236.3 767.7 239.6C769.9 242.9 772.5 246.8 775 250C777.5 253.2 779.8 256.4 782.6 258.7C785.4 261 788.5 262.5 792 264C795.5 265.5 800 266.7 803.8 267.5C807.5 268.3 811 268.5 814.5 268.6C818 268.7 821.5 268.2 825 268C828.5 267.8 831.5 267.9 835.7 267.2C839.9 266.5 847.6 264.5 850 264L850 250C847.5 241.7 837.9 217.4 835 200C832.1 182.6 832.9 154.7 832.5 145.6L813.4 128.7Z" fill="#F6CFBC" stroke="#DDB8A8" stroke-width="0.9" stroke-linejoin="round"/><path d="M812.1 128C810.7 129.5 806.4 134.4 803.7 137.3C801 140.2 798.3 142.5 796.1 145.5C793.9 148.5 792.5 152.1 790.7 155.3C788.9 158.5 788.3 161.9 785.5 164.6C782.7 167.4 777.6 169.7 773.7 171.8C769.8 173.9 765.3 175.7 762.1 177.4C758.9 179.2 756.5 180.5 754.7 182.3C752.9 184.1 752.5 185.5 751.5 188C750.5 190.5 749.4 194.1 749 197.3C748.6 200.5 749.2 205.4 749.3 207" fill="none" stroke="#fff" stroke-width="4.6" filter="url(#b2)" stroke-linecap="round" stroke-opacity="0.9"/><path d="M818 153.5C816 154.3 810.3 156.4 806 158.5C801.7 160.6 796.3 163.4 792 166C787.7 168.6 783.5 171.2 780 174C776.5 176.8 773.2 179.5 771 183C768.8 186.5 767.3 190.8 766.5 195C765.7 199.2 765.8 203.5 766 208C766.2 212.5 766.8 217.3 768 222C769.2 226.7 770.8 231.7 773 236C775.2 240.3 777.8 244.5 781 248C784.2 251.5 790.2 255.5 792 257" fill="none" stroke="#D0B0A4" stroke-width="1.2"/><path d="M786 179C784.7 179.5 780.3 180.3 778 182C775.7 183.7 773.2 186 772 189C770.8 192 770.5 196.2 770.5 200C770.5 203.8 771.1 207.8 772 212C772.9 216.2 774.5 220.8 776 225C777.5 229.2 779.3 233.3 781 237C782.7 240.7 785.2 245.3 786 247C785.8 245 785.5 239.5 785 235C784.5 230.5 783.5 225 783 220C782.5 215 782 209.7 782 205C782 200.3 782.3 196.3 783 192C783.7 187.7 785.5 181.2 786 179Z" fill="#F7B4A6" stroke="#F09A88" stroke-width="1.4"/><path d="M818.3 153.4C820.6 152 828.2 147.4 832.2 145.2C836.2 143 837.1 142.6 842 140.4C846.9 138.2 854.9 134.4 861.3 132.3C867.7 130.2 874 128.4 880.4 128.1C886.8 127.7 893.6 128.4 899.6 130.2C905.6 132 911.3 135.9 916.6 138.7C921.9 141.5 926.9 144.7 931.5 147.2C936.1 149.7 942.2 152.5 944.3 153.6C942.9 154.8 938 157.7 935.7 161.1C933.4 164.5 931.7 170.3 930.5 173.8C929.3 177.3 928.6 179.2 928.4 182C928.2 184.8 928.9 187.7 929.4 190.9C929.9 194.1 930.5 196 931.5 201.3C932.5 206.6 934.4 217 935.7 222.6C937 228.2 938.8 231.1 939.5 235C940.2 238.9 940.3 241.7 940 246C939.7 250.3 938.2 258.4 937.9 260.9C935.1 260.2 927.3 257.9 920.9 256.6C914.5 255.4 906.7 253.8 899.6 253.4C892.5 253.1 885.4 253.1 878.3 254.5C871.2 255.9 862.4 260.1 857 261.9C851.6 263.6 849.5 264.1 846 265C842.5 265.9 839.2 266.7 835.7 267.2C832.2 267.7 828.5 268.1 825 268.2C821.5 268.3 817.8 268.2 814.5 267.6C811.2 267 807.9 266 805 264.5C802.1 263 799.7 260.9 797.4 258.7C795.1 256.4 792.8 253.5 791 251C789.2 248.5 787.8 246.3 786.8 243.8C785.8 241.3 785.1 238.5 784.8 236C784.4 233.5 785 231.6 784.7 228.9C784.4 226.2 783.5 224 783 220C782.5 216 781.8 209.2 782 205C782.2 200.8 783 198 784 195C785 192 786.2 189.7 788 187C789.8 184.3 792.2 182.2 795 179C797.8 175.8 802.2 171.3 805 168C807.8 164.7 809.8 161.4 812 159C814.2 156.6 817.2 154.3 818.3 153.4Z" fill="#FDD45C"/><path d="M818.8 153.8C821 152.5 828.3 148 832.2 145.9C836.1 143.8 837.1 143.2 842 141C846.9 138.8 854.9 135 861.3 133C867.7 131 874 129.2 880.4 128.8C886.8 128.5 893.6 129.2 899.6 130.9C905.6 132.7 911.3 136.5 916.6 139.3C921.9 142.1 927 145.5 931.5 147.9C936 150.3 941.3 152.7 943.3 153.7" fill="none" stroke="#FFC61C" stroke-width="1.8"/><path d="M937 260.5C934.3 259.8 927.1 257.4 920.9 256.1C914.7 254.8 906.7 253.2 899.6 252.9C892.5 252.6 885.4 252.6 878.3 254C871.2 255.4 860.5 260.2 857 261.4" fill="none" stroke="#FFC61C" stroke-width="1.2"/><g transform="translate(622.7 -0.5)" ><path d="M173.7 247.5C174.1 247.9 174.1 249.3 175.9 250.1C177.8 251 181 251.8 184.8 252.4C188.7 253 194.6 253.4 198.9 253.7C203.3 253.9 208.8 253.8 210.8 253.8L209.5 246.3C207.6 246.3 202 246.2 198 246.3C194.1 246.3 189.3 246.4 185.9 246.6C182.4 246.7 179.3 247 177.3 247.1C175.3 247.3 174.3 247.4 173.7 247.5Z" fill="#CEDDE7" stroke="#22A0CC" stroke-width="1.7" stroke-linejoin="round"/><path d="M182.6 246.8L181.9 251.7" fill="none" stroke="#22A0CC" stroke-width="1.5"/><path d="M189.8 246.5L189.6 252.8" fill="none" stroke="#22A0CC" stroke-width="1.5"/><path d="M197 246.3L197.3 253.5" fill="none" stroke="#22A0CC" stroke-width="1.5"/><path d="M203.8 246.3L204.6 253.7" fill="none" stroke="#22A0CC" stroke-width="1.5"/><path d="M209.5 246.6L215.9 244.7L217.8 251L210.8 253.5L209.5 246.6Z" fill="#CEDDE7" stroke="#22A0CC" stroke-width="1.7" stroke-linejoin="round"/><path d="M217.1 244L226 235.2L231.6 242.2L222.2 251.6L217.1 244Z" fill="#CEDDE7" stroke="#22A0CC" stroke-width="1.7" stroke-linejoin="round"/><path d="M226.4 235.8L229.3 230.1L233.9 238.9L231 241.5Z" fill="#2FA6D6" stroke="#22A0CC" stroke-width="1.2" stroke-linejoin="round"/><path d="M238 221.9L242.3 220.2L245.4 231.6L241.6 231.3Z" fill="#2FA6D6" stroke="#22A0CC" stroke-width="1.2" stroke-linejoin="round"/><path d="M254.9 218.3L258.6 218.3L259.6 229.7L256.4 229.2Z" fill="#2FA6D6" stroke="#22A0CC" stroke-width="1.2" stroke-linejoin="round"/><path d="M272.4 218.3L276.1 220.1L275 229.9L272.4 229.7Z" fill="#2FA6D6" stroke="#22A0CC" stroke-width="1.2" stroke-linejoin="round"/><path d="M289.2 223.2L293 225.5L290.4 232.2L286.6 232.5Z" fill="#2FA6D6" stroke="#22A0CC" stroke-width="1.2" stroke-linejoin="round"/><path d="M303 229.3L305.6 229.9L302.5 236.6L299.9 236.5Z" fill="#2FA6D6" stroke="#22A0CC" stroke-width="1.2" stroke-linejoin="round"/><path d="M228.8 229.2L237.6 221L242 232.4L234.5 240L228.8 229.2Z" fill="#CEDDE7" stroke="#22A0CC" stroke-width="1.7" stroke-linejoin="round"/><path d="M242 219.1L254.7 217.2L256.6 230.5L245.8 233L242 219.1Z" fill="#CEDDE7" stroke="#22A0CC" stroke-width="1.7" stroke-linejoin="round"/><path d="M258.5 217.2L272.4 217.2L272.4 231.1L259.7 231.1L258.5 217.2Z" fill="#CEDDE7" stroke="#22A0CC" stroke-width="1.7" stroke-linejoin="round"/><path d="M276.2 219.1L289.4 222.3L286.3 233.6L274.9 231.1L276.2 219.1Z" fill="#CEDDE7" stroke="#22A0CC" stroke-width="1.7" stroke-linejoin="round"/><path d="M293.2 224.8L303.3 228.6L299.5 237.4L290.1 233L293.2 224.8Z" fill="#CEDDE7" stroke="#22A0CC" stroke-width="1.7" stroke-linejoin="round"/><path d="M305.9 229.2L315.3 233L312.2 241.9L302.1 237.4L305.9 229.2Z" fill="#CEDDE7" stroke="#22A0CC" stroke-width="1.7" stroke-linejoin="round"/><path d="M237.6 244.4Q240.8 244.2 244 242.5Q242.9 249.2 240.2 255.7L235.7 255.1Q238.2 250 237.6 244.4Z" fill="#CEDDE7" stroke="#22A0CC" stroke-width="1.4" stroke-linejoin="round"/><path d="M249 238.7Q252.8 239.2 256.6 238.1Q255.2 244.8 252.2 251.3L247.1 252Q249.6 245.6 249 238.7Z" fill="#CEDDE7" stroke="#22A0CC" stroke-width="1.4" stroke-linejoin="round"/><path d="M261.6 238.1Q265.8 238.9 269.9 238.1Q268.4 243.8 265.4 249.4L261.6 250.1Q263.2 244.1 261.6 238.1Z" fill="#CEDDE7" stroke="#22A0CC" stroke-width="1.4" stroke-linejoin="round"/><path d="M275.5 239.3Q279.6 239.8 283.7 238.7Q281.7 243.9 278.1 248.8L273.6 249.4Q276.1 244.6 275.5 239.3Z" fill="#CEDDE7" stroke="#22A0CC" stroke-width="1.4" stroke-linejoin="round"/><path d="M288.8 240Q292.3 241.4 295.8 241.2Q293.3 245.6 289.4 249.4L285 249.4Q288.4 245.3 288.8 240Z" fill="#CEDDE7" stroke="#22A0CC" stroke-width="1.4" stroke-linejoin="round"/><path d="M303.3 245.6Q306.5 246.8 309.7 246.3Q307.2 249.9 303.3 252.6L298.9 252Q302.4 249.7 303.3 245.6Z" fill="#CEDDE7" stroke="#22A0CC" stroke-width="1.4" stroke-linejoin="round"/><path d="M211.4 260.2L222 256L232.3 252L229.8 260.9L215.9 263.4L211.4 260.2Z" fill="#CEDDE7" stroke="#22A0CC" stroke-width="1.4" stroke-linejoin="round"/></g><path d="M782.6 230.5C783.5 231.2 785.9 233.6 788 235C790.1 236.4 792.8 237.8 795.3 239C797.8 240.2 800.5 241.3 803 242C805.5 242.7 807.7 243.1 810.2 243.2C812.7 243.3 815.5 242.8 818 242.6C820.5 242.3 821.8 242.2 825.1 241.7C828.4 241.1 835.8 239.7 837.9 239.3L837 243.5C835 243.8 828.6 244.9 825.1 245.4C821.6 245.9 818.8 246.3 816 246.5C813.2 246.7 810.8 246.6 808.1 246.4C805.4 246.2 802.5 246 800 245.4C797.5 244.8 795.4 244.1 793.2 243C791 241.9 788.7 240.3 787 239C785.3 237.7 783.7 236.4 783 235C782.3 233.6 782.7 231.2 782.6 230.5Z" fill="#4C4485" stroke="#4C4485" stroke-width="1.5"/><path d="M784 238C784.3 239.3 785.5 243.7 786 246C786.5 248.3 786.8 251 787 252" fill="none" stroke="#4C4485" stroke-width="1"/><path d="M810 164.5C809.7 165.8 809.2 169.8 808 172C806.8 174.2 804.4 176.4 802.5 178C800.6 179.6 798 181.2 796.5 181.6C795 182 793.4 181.9 793.5 180.5C793.6 179.1 795.4 175.2 797 173C798.6 170.8 800.8 168.9 803 167.5C805.2 166.1 808.8 165 810 164.5Z" fill="#CEDDE7" stroke="#22A0CC" stroke-width="2"/><path d="M809.5 165.2L826 156.6" fill="none" stroke="#2A9DBA" stroke-width="4.8" stroke-linecap="round"/><path d="M810.6 162.9L812 165.6" fill="none" stroke="#A9DCEA" stroke-width="1"/><path d="M813.2 161.6L814.6 164.3" fill="none" stroke="#A9DCEA" stroke-width="1"/><path d="M815.8 160.2L817.2 162.9" fill="none" stroke="#A9DCEA" stroke-width="1"/><path d="M818.3 158.9L819.7 161.6" fill="none" stroke="#A9DCEA" stroke-width="1"/><path d="M820.9 157.5L822.3 160.2" fill="none" stroke="#A9DCEA" stroke-width="1"/><path d="M823.5 156.2L824.9 158.9" fill="none" stroke="#A9DCEA" stroke-width="1"/><path d="M819 168.5C817.8 169.7 814.6 173.2 812 175.5C809.4 177.8 806.5 180.2 803.5 182C800.5 183.8 796.8 185.3 794 186.6C791.2 187.8 787.8 189 786.5 189.5" fill="none" stroke="#4C4485" stroke-width="2.2" stroke-linecap="round"/><path d="M816 177C814.3 178.5 809.3 183.5 806 186C802.7 188.5 799 190.4 796 192C793 193.6 789.3 194.9 788 195.5" fill="none" stroke="#4C4485" stroke-width="1.4" stroke-linecap="round"/><path d="M852.4 152.2C856.4 149.9 861.2 147.2 865 145.4C868.8 143.6 872.1 142.4 875 141.6C877.9 140.8 880.1 140.4 882.6 140.4C885.1 140.4 887.5 140.9 890 141.5C892.5 142.1 895.1 142.8 897.4 144C899.6 145.2 901.7 146.7 903.5 148.5C905.3 150.3 906.9 152.4 908.1 154.7C909.3 156.9 910.1 159.5 910.6 162C911.1 164.5 911.3 167.1 911.3 169.6C911.3 172.1 911.1 174.5 910.6 177C910.1 179.5 909.3 182.2 908.1 184.5C906.9 186.8 905.3 188.9 903.5 191C901.7 193.1 899.8 195.4 897.4 197.2C895 199 891.8 200.4 889 201.8C886.2 203.2 883.4 204.7 880.4 205.7C877.4 206.7 874.2 207.3 871 208C867.8 208.7 864 209.4 861.3 210C858.6 210.6 856.8 210.8 855 211.5C853.2 212.2 852.1 213.1 850.6 214.3C849.1 215.6 847.4 217.2 846 219C844.6 220.8 843.4 222.9 842.1 224.9C840.8 226.9 839.7 229.1 838 231C836.3 232.9 834.7 235 832 236.5C829.3 238 825.7 239.2 822 240C818.3 240.8 813.8 241.2 810 241C806.2 240.8 802.3 239.7 799 238.5C795.7 237.3 792.7 235.9 790 234C787.3 232.1 784.9 229.8 783 227C781.1 224.2 779.4 220.5 778.5 217C777.6 213.5 777.2 209.2 777.4 206C777.6 202.8 778.3 199.6 779.5 197.5C780.7 195.4 781.8 194.8 784.5 193.5C787.2 192.2 792 190.9 795.5 189.6C799 188.3 802.6 187.3 805.6 185.8C808.6 184.3 811.3 182.5 813.2 180.8C815.1 179.1 815.5 177.6 817 175.7C818.5 173.8 819.8 171.4 822.1 169.6C824.4 167.8 827.8 166.7 830.9 165C834 163.3 837.4 161.3 841 159.2C844.6 157.1 848.4 154.5 852.4 152.2Z" fill="#A09DC8" stroke="#4C4485" stroke-width="1.8"/><path d="M786 194.5C785.1 195.2 781.8 196.9 780.5 199C779.2 201.1 778.5 204 778.2 207C778 210 778.1 213.7 779 217C779.9 220.3 781.6 224.1 783.5 227C785.4 229.9 787.8 232.5 790.5 234.5C793.2 236.5 796.2 237.9 799.5 239C802.8 240.1 806.2 241.1 810 241.3C813.8 241.5 818.3 241.1 822 240.3C825.7 239.6 830.3 237.4 832 236.8" fill="none" stroke="#4C4485" stroke-width="3.4" stroke-linecap="round"/><path d="M789 191.3C790.3 190.9 794.2 190 797 189C799.8 188 803.1 186.6 805.5 185.3C807.9 184 809.8 182.6 811.5 181C813.2 179.4 815.2 176.8 816 176" fill="none" stroke="#FDD45C" stroke-width="1.4" stroke-linecap="round"/><path d="M853.5 155C857.2 152.8 861.4 150.4 865 148.8C868.6 147.2 872.2 145.9 875 145.2C877.8 144.5 879.7 144.5 882 144.6C884.3 144.7 886.8 145.3 889 146C891.2 146.7 893.2 147.8 895 149C896.8 150.2 898.6 151.8 900 153.5C901.4 155.2 902.6 156.9 903.5 159C904.4 161.1 905 163.7 905.3 166C905.6 168.3 905.6 170.7 905.3 173C905 175.3 904.5 177.7 903.5 180C902.5 182.3 901.1 184.8 899.5 187C897.9 189.2 896.2 191.2 894 193C891.8 194.8 888.7 196.2 886 197.5C883.3 198.8 881 199.6 878 200.5C875 201.4 871.2 202.2 868 203C864.8 203.8 861.5 204.7 859 205.5C856.5 206.3 854.8 206.9 853 208C851.2 209.1 849.5 210.3 848 212C846.5 213.7 845.3 215.8 844 218C842.7 220.2 841.5 222.8 840 225C838.5 227.2 837 229.8 835 231.5C833 233.2 830.8 234.5 828 235.5C825.2 236.5 821.5 237.2 818 237.5C814.5 237.8 810.5 237.6 807 237C803.5 236.4 800 235.3 797 234C794 232.7 791.2 231.2 789 229C786.8 226.8 784.8 224 783.5 221C782.2 218 781.7 214.2 781.5 211C781.3 207.8 781.6 204.4 782.5 202C783.4 199.6 784.7 198.1 787 196.5C789.3 194.9 793.2 193.9 796.5 192.6C799.8 191.3 803.4 190.3 806.5 188.8C809.6 187.3 812.8 185.5 815 183.6C817.2 181.7 817.9 179.5 819.5 177.6C821.1 175.7 822.3 174 824.5 172.4C826.7 170.8 829.5 169.7 832.5 168C835.5 166.3 839 164.2 842.5 162C846 159.8 849.8 157.2 853.5 155Z" fill="#F69F77" stroke="#4C4485" stroke-width="1"/><ellipse cx="808" cy="218" rx="25" ry="18.5" fill="url(#hd)" transform="rotate(12 808 218)"/><path d="M855 155C854.8 156.2 854.5 159.8 853.5 162C852.5 164.2 850.9 166.2 849 168C847.1 169.8 842.2 171.7 842 172.5C841.8 173.3 846 172.4 848 173C850 173.6 853 175.5 854 176C853.8 175 852.2 172.2 852.5 170C852.8 167.8 855.1 165.5 855.5 163C855.9 160.5 855.1 156.3 855 155Z" fill="#E9723F"/><path d="M826 179C828 178.7 834.2 177.5 838 177C841.8 176.5 845.8 175.7 849 176C852.2 176.3 855.7 178.5 857 179" fill="none" stroke="#E9723F" stroke-width="1.8" stroke-linecap="round"/><path d="M857 179C857.4 180.2 859.3 183.5 859.5 186C859.7 188.5 858.8 191.7 858 194C857.2 196.3 855.5 199 855 200" fill="none" stroke="#E9723F" stroke-width="1.8" stroke-linecap="round"/><path d="M860 163C861.3 162.7 865 161.4 868 161C871 160.6 874.7 160.3 878 160.5C881.3 160.7 885.5 161.1 888 162C890.5 162.9 892.2 165.3 893 166" fill="none" stroke="#E9723F" stroke-width="1.7" stroke-linecap="round"/><path d="M860 163C860.1 164 859.7 167 860.5 169C861.3 171 863.1 173.7 865 175C866.9 176.3 869.2 177.2 872 177C874.8 176.8 878.8 175.2 882 174C885.2 172.8 889.5 170.7 891 170" fill="none" stroke="#E9723F" stroke-width="1.7" stroke-linecap="round"/><path d="M863 166L866 170" fill="none" stroke="#E9723F" stroke-width="1.4" stroke-linecap="round"/><path d="M866 165L869 169.5" fill="none" stroke="#E9723F" stroke-width="1.4" stroke-linecap="round"/><path d="M869 164.5L872 169" fill="none" stroke="#E9723F" stroke-width="1.4" stroke-linecap="round"/><path d="M858 194C859.5 193.5 863.8 191.8 867 191C870.2 190.2 874 190 877 189C880 188 882.5 186.5 885 185C887.5 183.5 890.8 180.8 892 180" fill="none" stroke="#E9723F" stroke-width="1.8" stroke-linecap="round"/><path d="M884 186C884.2 187.2 885.2 191 885 193C884.8 195 883.3 197.2 883 198" fill="none" stroke="#E9723F" stroke-width="1.6" stroke-linecap="round"/><path d="M832 194C832.5 192.4 833.5 189.7 835 188.5C836.5 187.3 839.3 186.6 841 187C842.7 187.4 844.3 189.3 845 191C845.7 192.7 845.7 195.2 845 197C844.3 198.8 842.7 201.2 841 202C839.3 202.8 836.5 202.7 835 202C833.5 201.3 832.5 199.3 832 198C831.5 196.7 831.5 195.6 832 194Z" fill="none" stroke="#E9723F" stroke-width="1.6" stroke-linecap="round"/><path d="M835 191L841 193" fill="none" stroke="#E9723F" stroke-width="1.2" stroke-linecap="round"/><path d="M834 195L841 197" fill="none" stroke="#E9723F" stroke-width="1.2" stroke-linecap="round"/><path d="M838 203C838.7 203.8 840.7 206.7 842 208C843.3 209.3 845.3 210.5 846 211" fill="none" stroke="#E9723F" stroke-width="1.7" stroke-linecap="round"/><path d="M807 205C807.7 204.5 809.3 202.5 811 202C812.7 201.5 815.3 201.5 817 202C818.7 202.5 820.3 204.5 821 205" fill="none" stroke="#E9723F" stroke-width="1.6" stroke-linecap="round"/><path d="M808 207C808.8 207.2 811.2 208 813 208C814.8 208 818 207.2 819 207" fill="none" stroke="#E9723F" stroke-width="1.4" stroke-linecap="round"/><path d="M857 198C856 198.8 852.3 201.2 851 203C849.7 204.8 849.3 208 849 209" fill="none" stroke="#E9723F" stroke-width="1.7" stroke-linecap="round"/><path d="M826 225C826.4 225.7 827.8 227.8 828.5 229C829.2 230.2 830.2 231.9 830.5 232.5" fill="none" stroke="#6B4A4A" stroke-width="1.1" stroke-linecap="round"/><path d="M786 215C787.5 214.3 791.7 211.8 795 211C798.3 210.2 804.2 210.2 806 210" fill="none" stroke="#EE9458" stroke-width="1.1" stroke-linecap="round"/><path d="M787 222C788.7 221.3 793.3 218.8 797 218C800.7 217.2 807 217.2 809 217" fill="none" stroke="#EE9458" stroke-width="1.1" stroke-linecap="round"/><path d="M791 228.5C792.7 227.9 797.3 225.8 801 225C804.7 224.2 811 224.2 813 224" fill="none" stroke="#EE9458" stroke-width="1.1" stroke-linecap="round"/><path d="M798 233C799.7 232.6 804.5 231 808 230.5C811.5 230 817.2 230.1 819 230" fill="none" stroke="#EE9458" stroke-width="1.1" stroke-linecap="round"/><path d="M855 207.5C856.2 207.2 859.5 206.3 862 205.6C864.5 204.9 868.7 203.8 870 203.5" fill="none" stroke="#B9B5DC" stroke-width="1.6" stroke-linecap="round"/></g>
<!-- p4 -->
<g><path d="M189.5 374.7C188.4 375.9 184.9 379.6 183 382C181.1 384.4 179.7 386.1 178.2 389.1C176.7 392.1 175.4 396.4 174 400C172.6 403.6 171.9 407.5 169.7 410.4C167.5 413.3 163.8 415.4 161 417.5C158.2 419.6 155.2 421.4 152.7 423.2C150.2 424.9 147.8 426.2 146 428C144.2 429.8 143.2 431.3 142 433.8C140.8 436.3 139.5 439.8 139 443C138.5 446.2 138.4 449.8 138.8 453C139.2 456.2 140.2 459.2 141.5 462C142.8 464.8 144.7 467.2 146.3 470C147.9 472.8 149.2 476.2 151 479C152.8 481.8 154.8 484.5 156.9 487C159 489.5 161.1 491.8 163.3 494.2C165.5 496.6 167.5 499.1 170 501.5C172.5 503.9 175.5 506.7 178.2 508.4C180.9 510.1 183.5 510.9 186 511.8C188.5 512.7 190.1 513.2 193.1 513.7C196.1 514.2 200.4 514.8 204 515C207.6 515.2 210.9 515 214.4 514.8C217.9 514.5 221.5 514.1 225 513.5C228.5 512.9 233.8 511.7 235.6 511.3L236 500C232.5 491.7 219.5 467.2 215 450C210.5 432.8 210 405.8 209 397L189.5 374.7Z" fill="#F6CFBC" stroke="#DDB8A8" stroke-width="0.9" stroke-linejoin="round"/><path d="M188.2 374C187.1 375.2 183.6 378.9 181.7 381.3C179.8 383.7 178.4 385.4 176.9 388.4C175.4 391.4 174.1 395.8 172.7 399.3C171.3 402.9 170.6 406.8 168.4 409.7C166.2 412.6 162.5 414.7 159.7 416.8C156.9 418.9 153.9 420.8 151.4 422.5C148.9 424.2 146.5 425.5 144.7 427.3C142.9 429.1 141.9 430.6 140.7 433.1C139.5 435.6 138.2 440.8 137.7 442.3" fill="none" stroke="#fff" stroke-width="4.6" filter="url(#b2)" stroke-linecap="round" stroke-opacity="0.9"/><path d="M208.5 397.5C206.9 398.2 201.8 400.5 199 402C196.2 403.5 193.7 405.1 191.8 406.7C189.9 408.3 188.6 409.8 187.5 411.5C186.4 413.2 185.9 414.6 185.4 417C184.9 419.4 184.3 422.4 184.3 425.6C184.3 428.8 185.3 434.3 185.5 436" fill="none" stroke="#D0B0A4" stroke-width="1.2"/><path d="M141 455C141.8 457.2 144 463.7 146 468C148 472.3 150.5 477 153 481C155.5 485 158 488.7 161 492C164 495.3 167.3 498.3 171 501C174.7 503.7 181 506.8 183 508" fill="none" stroke="#E2B5A6" stroke-width="1"/><path d="M209.5 396.8C212.4 395.5 221.3 391.3 227.1 389.1C232.9 386.9 238.1 384.9 244.1 383.8C250.1 382.8 256.9 382.4 263.3 382.8C269.7 383.2 276 384.4 282.4 386C288.8 387.6 295.6 389.8 301.6 392.3C307.6 394.8 315.8 399.5 318.6 400.9C317.5 403.5 314.1 412.3 312.2 416.8C310.3 421.3 308.6 424.1 307.5 428C306.4 431.9 305.9 435.5 305.6 440C305.3 444.5 305.5 451.3 305.9 455.1C306.3 458.9 307.2 460.2 308 463C308.8 465.8 309.5 468.8 310.6 472.1C311.7 475.4 313.4 479.1 314.4 482.6C315.4 486.1 316.1 489.5 316.6 493C317.1 496.5 317.4 502 317.6 503.8C315.7 503.3 309.7 501.7 306 501C302.3 500.3 298.9 499.8 295.2 499.6C291.5 499.4 287.6 499.4 284 499.6C280.4 499.8 277.4 500 273.9 500.6C270.4 501.2 266.5 502.1 263 503C259.5 503.9 255.9 505 252.7 506C249.5 507 246.8 508.1 244 509C241.2 509.9 238.8 510.6 235.6 511.3C232.4 512 228.5 512.9 225 513.4C221.5 513.9 218.7 514.7 214.4 514.5C210.2 514.3 204.5 513.4 199.5 512.3C194.5 511.2 188.5 509.7 184.6 508.1C180.7 506.6 178.5 504.8 176 503C173.5 501.2 171.5 499.4 169.7 497.4C167.9 495.4 166.2 493.1 165 491C163.8 488.9 162 486.5 162.2 484.7C162.4 482.9 165.4 480.8 166 480C169.2 478.3 181.3 475.8 185 470C188.7 464.2 187.2 450.5 188 445C188.8 439.5 189.3 439.4 189.5 437C189.7 434.6 189.1 433 189.3 430.7C189.5 428.4 189.8 425.6 190.6 423.1C191.4 420.6 192.7 418.2 194.4 415.5C196.1 412.8 198.2 409.8 200.7 406.7C203.2 403.6 208 398.4 209.5 396.8Z" fill="#FDD45C"/><path d="M242 385C243.7 384.8 248.4 384.1 252 383.9C255.6 383.6 258.2 383 263.3 383.5C268.4 384 276 385.1 282.4 386.7C288.8 388.3 295.7 390.6 301.6 393C307.5 395.4 314.9 399.7 317.6 401" fill="none" stroke="#FFC61C" stroke-width="1.8"/><path d="M209.8 397C211.2 396.4 215.1 394.4 218 393.2C220.9 392 224.3 390.7 227.1 389.6C229.9 388.5 232.5 387.6 235 386.8C237.5 386 240.8 385.3 242 385" fill="none" stroke="#EBC3A9" stroke-width="1.5"/><path d="M316.6 503.3C314.8 502.8 309.6 501.2 306 500.5C302.4 499.8 298.9 499.3 295.2 499.1C291.5 498.9 287.6 498.9 284 499.1C280.4 499.3 277.4 499.5 273.9 500.1C270.4 500.7 266.5 501.6 263 502.5C259.5 503.4 255.9 504.5 252.7 505.5C249.5 506.5 245.4 508 244 508.5" fill="none" stroke="#FFC61C" stroke-width="1.2"/><g transform="translate(7.5 246)" ><path d="M174.9 246.1C175.3 246.6 175.3 248.3 177.1 249.3C178.8 250.3 182 251.4 185.7 252.1C189.4 252.8 195.1 253.4 199.3 253.6C203.5 253.9 208.9 253.8 210.8 253.8L209.5 246.3C207.7 246.3 202.2 246.3 198.4 246.3C194.6 246.3 190 246.3 186.7 246.3C183.3 246.2 180.3 246.2 178.4 246.2C176.4 246.1 175.5 246.1 174.9 246.1Z" fill="#CEDDE7" stroke="#22A0CC" stroke-width="1.7" stroke-linejoin="round"/><path d="M183.5 246.2L182.4 251.1" fill="none" stroke="#22A0CC" stroke-width="1.5"/><path d="M190.5 246.3L189.9 252.6" fill="none" stroke="#22A0CC" stroke-width="1.5"/><path d="M197.4 246.3L197.5 253.4" fill="none" stroke="#22A0CC" stroke-width="1.5"/><path d="M204 246.3L204.7 253.7" fill="none" stroke="#22A0CC" stroke-width="1.5"/><path d="M209.5 246.6L215.9 244.7L217.8 251L210.8 253.5L209.5 246.6Z" fill="#CEDDE7" stroke="#22A0CC" stroke-width="1.7" stroke-linejoin="round"/><path d="M217.1 244L226 235.2L231.6 242.2L222.2 251.6L217.1 244Z" fill="#CEDDE7" stroke="#22A0CC" stroke-width="1.7" stroke-linejoin="round"/><path d="M226.4 235.8L229.3 230.1L233.9 238.9L231 241.5Z" fill="#2FA6D6" stroke="#22A0CC" stroke-width="1.2" stroke-linejoin="round"/><path d="M238 221.9L242.3 220.2L245.4 231.6L241.6 231.3Z" fill="#2FA6D6" stroke="#22A0CC" stroke-width="1.2" stroke-linejoin="round"/><path d="M254.9 218.3L258.6 218.3L259.6 229.7L256.4 229.2Z" fill="#2FA6D6" stroke="#22A0CC" stroke-width="1.2" stroke-linejoin="round"/><path d="M272.4 218.3L276.1 220.1L275 229.9L272.4 229.7Z" fill="#2FA6D6" stroke="#22A0CC" stroke-width="1.2" stroke-linejoin="round"/><path d="M289.2 223.2L293 225.5L290.4 232.2L286.6 232.5Z" fill="#2FA6D6" stroke="#22A0CC" stroke-width="1.2" stroke-linejoin="round"/><path d="M228.8 229.2L237.6 221L242 232.4L234.5 240L228.8 229.2Z" fill="#CEDDE7" stroke="#22A0CC" stroke-width="1.7" stroke-linejoin="round"/><path d="M242 219.1L254.7 217.2L256.6 230.5L245.8 233L242 219.1Z" fill="#CEDDE7" stroke="#22A0CC" stroke-width="1.7" stroke-linejoin="round"/><path d="M258.5 217.2L272.4 217.2L272.4 231.1L259.7 231.1L258.5 217.2Z" fill="#CEDDE7" stroke="#22A0CC" stroke-width="1.7" stroke-linejoin="round"/><path d="M276.2 219.1L289.4 222.3L286.3 233.6L274.9 231.1L276.2 219.1Z" fill="#CEDDE7" stroke="#22A0CC" stroke-width="1.7" stroke-linejoin="round"/><path d="M293.2 224.8L303.3 228.6L299.5 237.4L290.1 233L293.2 224.8Z" fill="#CEDDE7" stroke="#22A0CC" stroke-width="1.7" stroke-linejoin="round"/><path d="M237.6 244.4Q240.8 244.2 244 242.5Q242.9 249.2 240.2 255.7L235.7 255.1Q238.2 250 237.6 244.4Z" fill="#CEDDE7" stroke="#22A0CC" stroke-width="1.4" stroke-linejoin="round"/><path d="M249 238.7Q252.8 239.2 256.6 238.1Q255.2 244.8 252.2 251.3L247.1 252Q249.6 245.6 249 238.7Z" fill="#CEDDE7" stroke="#22A0CC" stroke-width="1.4" stroke-linejoin="round"/><path d="M261.6 238.1Q265.8 238.9 269.9 238.1Q268.4 243.8 265.4 249.4L261.6 250.1Q263.2 244.1 261.6 238.1Z" fill="#CEDDE7" stroke="#22A0CC" stroke-width="1.4" stroke-linejoin="round"/><path d="M275.5 239.3Q279.6 239.8 283.7 238.7Q281.7 243.9 278.1 248.8L273.6 249.4Q276.1 244.6 275.5 239.3Z" fill="#CEDDE7" stroke="#22A0CC" stroke-width="1.4" stroke-linejoin="round"/><path d="M288.8 240Q292.3 241.4 295.8 241.2Q293.3 245.6 289.4 249.4L285 249.4Q288.4 245.3 288.8 240Z" fill="#CEDDE7" stroke="#22A0CC" stroke-width="1.4" stroke-linejoin="round"/><path d="M210.9 262.2L221.5 258L231.8 254L229.3 262.9L215.4 265.4L210.9 262.2Z" fill="#CEDDE7" stroke="#22A0CC" stroke-width="1.4" stroke-linejoin="round"/></g><path d="M176 481C177.7 481.5 182.5 483.1 186 484C189.5 484.9 193.3 485.8 197 486.5C200.7 487.2 204.4 487.8 208 488C211.6 488.2 216.8 487.8 218.6 487.8L219 490.5C217.2 490.8 211.8 491.8 208 492C204.2 492.2 199.8 492 196 491.5C192.2 491 188.5 490.2 185 489C181.5 487.8 176.5 485.8 175 484.5C173.5 483.2 175.8 481.6 176 481Z" fill="#4C4485" stroke="#4C4485" stroke-width="1.6"/><path d="M160 489.5C161 489.2 164 487.6 166 487.5C168 487.4 170 488.2 172 489C174 489.8 177 491.9 178 492.5" fill="none" stroke="#4C4485" stroke-width="1.1"/><path d="M163 486C164.2 485.8 167.8 484.9 170 485C172.2 485.1 175 486.2 176 486.5" fill="none" stroke="#8A7750" stroke-width="0.9"/><path d="M167 492C167.5 492.3 169.2 493.2 170 494C170.8 494.8 171.7 496.5 172 497" fill="none" stroke="#4C4485" stroke-width="1"/><path d="M205.5 416C205.2 417.2 205 421 204 423C203 425 201.2 426.6 199.5 428C197.8 429.4 195.3 431.2 194 431.5C192.7 431.8 191.5 431.3 191.5 430C191.5 428.7 192.8 425.4 194 423.5C195.2 421.6 197.1 419.8 199 418.5C200.9 417.2 204.4 416.4 205.5 416Z" fill="#CEDDE7" stroke="#22A0CC" stroke-width="2"/><path d="M203.6 413.5C204.3 412.4 206.1 409 208 407C209.9 405 212.8 402.8 215 401.5C217.2 400.2 220.4 399.4 221.5 399L225 405.8C224 406.6 221 408.9 219 410.5C217 412.1 214.9 414 213 415.5C211.1 417 208.4 418.8 207.5 419.5L203.6 413.5Z" fill="#2E9DB7"/><path d="M207.3 409.3L210.8 416" fill="none" stroke="#8ED0E0" stroke-width="0.9"/><path d="M210.8 406.3L214.3 413.3" fill="none" stroke="#8ED0E0" stroke-width="0.9"/><path d="M214.3 403.6L217.8 410.6" fill="none" stroke="#8ED0E0" stroke-width="0.9"/><path d="M217.8 401.7L221.2 408.4" fill="none" stroke="#8ED0E0" stroke-width="0.9"/><path d="M188 448C189.3 447.7 193.2 447.2 196 446C198.8 444.8 202.2 442.9 205 441C207.8 439.1 210.5 437 213 434.5C215.5 432 217.8 429.1 220 426C222.2 422.9 224.5 418.8 226 416C227.5 413.2 227.8 411.6 229 409.5C230.2 407.4 231.7 405.5 233.5 403.5C235.3 401.5 237.8 399.2 239.9 397.7C242 396.2 243.9 395.5 246 394.6C248.1 393.7 250.5 392.9 252.7 392.3C254.9 391.7 256.9 391.3 259 391.1C261.1 390.9 263.2 390.8 265.4 390.9C267.6 391 269.9 391.4 272 392C274.1 392.6 276.2 393.4 278.2 394.5C280.2 395.6 282.2 396.9 284 398.5C285.8 400.1 287.5 401.9 288.8 404C290.1 406.1 291.1 408.5 291.8 411C292.5 413.5 293.1 416.3 293.1 418.9C293.1 421.5 292.7 424 292 426.5C291.3 429 290.1 431.6 288.8 433.8C287.5 436 285.8 437.7 284 439.5C282.2 441.3 280.4 442.9 278.2 444.5C276 446.1 273.5 447.6 271 449C268.5 450.4 265.8 451.8 263.3 453C260.8 454.2 258.5 455.1 256 456.2C253.5 457.3 250.6 458.2 248.4 459.4C246.2 460.6 244.8 461.8 243 463.2C241.2 464.6 239.6 466.2 237.8 467.9C236.1 469.6 234.3 471.7 232.5 473.5C230.7 475.3 229 477 227.1 478.5C225.2 480 223.1 481.4 221 482.5C218.9 483.6 217.1 484.3 214.4 484.9C211.7 485.5 208.2 485.8 205 486C201.8 486.2 197.7 486.3 195.2 486C192.7 485.7 191.4 485.3 190 484C188.6 482.7 187.7 481.2 187 478C186.3 474.8 185.8 470 186 465C186.2 460 187.7 450.8 188 448Z" fill="#A9A5D1" stroke="#4C4485" stroke-width="1.7"/><path d="M232 409C233.8 407.8 239.3 403.4 243 401.5C246.7 399.6 250.3 398.3 254 397.5C257.7 396.7 261.5 396.4 265 396.8C268.5 397.2 272.1 398.3 275 400C277.9 401.7 280.8 404.2 282.5 407C284.2 409.8 285.3 413.7 285.5 417C285.7 420.3 284.8 423.9 283.5 427C282.2 430.1 278.5 434.1 277.5 435.5" fill="none" stroke="#6F6AA3" stroke-width="1.1"/><path d="M226.5 406.5C225.7 407.9 223.2 412.2 221.5 415C219.8 417.8 218.2 420.9 216.5 423.2C214.8 425.5 212.8 427.2 211 429C209.2 430.8 207.8 432.3 205.9 433.8C204 435.3 201.6 436.9 199.5 438C197.4 439.1 194.8 440 193.1 440.2C191.3 440.4 189.9 439.8 189 439C188.1 438.2 187.8 436.1 187.5 435.5" fill="none" stroke="#4C4485" stroke-width="2.6" stroke-linecap="round"/><path d="M227.5 413C226.8 414.3 224.6 418.5 223 421C221.4 423.5 219.8 425.8 218 428C216.2 430.2 214 432.6 212 434.5C210 436.4 208.2 438 206 439.5C203.8 441 201.2 442.5 199 443.5C196.8 444.5 194.6 445.4 193 445.6C191.4 445.8 190.1 444.7 189.5 444.5" fill="none" stroke="#4C4485" stroke-width="1.5" stroke-linecap="round"/><path d="M225 412.5C224.2 413.9 221.8 418.5 220 421C218.2 423.5 216.4 425.4 214.5 427.5C212.6 429.6 210.6 431.7 208.5 433.5C206.4 435.3 204.2 436.9 202 438.3C199.8 439.7 196.6 441.1 195.5 441.6" fill="none" stroke="#FDD45C" stroke-width="1.3" stroke-linecap="round"/><path d="M187 446.5C189.5 444.1 193 445.1 196 443.8C199 442.6 201.9 441 205 439C208.1 437 211.6 434.6 214.4 431.9C217.2 429.2 219.5 426.1 222 423C224.5 419.9 227 415.7 229.3 413C231.6 410.3 233.5 408.6 236 406.8C238.5 405 241.1 403.4 244.1 402.3C247.1 401.2 250.8 400.6 254 400.5C257.2 400.4 260.7 400.6 263.3 401.5C265.9 402.4 267.7 404.1 269.5 406C271.3 407.9 272.7 410.1 273.9 412.6C275.1 415.1 276 418.2 276.5 421C277 423.8 277.4 427 277.1 429.6C276.8 432.2 275.7 434.4 274.5 436.5C273.3 438.6 271.9 440.6 269.7 442.3C267.5 444.1 264.3 445.6 261.5 447C258.7 448.4 255.1 449.8 252.7 450.9C250.3 452 248.8 452.8 247 453.8C245.2 454.9 243.4 455.8 242 457.2C240.6 458.6 239.6 460.2 238.5 462C237.4 463.8 237.3 465.7 235.6 467.9C233.8 470.1 230.8 472.9 228 475C225.2 477.1 222.1 479.3 218.6 480.6C215.1 481.9 210.9 482.4 207 482.8C203.1 483.2 198.7 483.3 195.2 482.8C191.7 482.3 188.4 481.8 186 480C183.6 478.2 181.8 475.7 181 472C180.2 468.3 180 462.2 181 458C182 453.8 184.5 448.9 187 446.5Z" fill="#F69F77" stroke="#4C4485" stroke-width="0.9"/><ellipse cx="167.7" cy="451.6" rx="19.6" ry="30.4" fill="url(#hd4)" transform="rotate(6 167.7 451.6)"/><ellipse cx="167.7" cy="451.6" rx="19.4" ry="30.2" fill="none" stroke="#EA8558" stroke-width="0.8" transform="rotate(6 167.7 451.6)"/><path d="M237 413C236.8 414.2 235.8 417.5 236 420C236.2 422.5 236.8 426.2 238 428C239.2 429.8 241 430.7 243 431C245 431.3 247.5 430.7 250 430C252.5 429.3 255.3 428 258 427C260.7 426 263.5 425 266 424C268.5 423 271.8 421.5 273 421" fill="none" stroke="#E9723F" stroke-width="1.7" stroke-linecap="round"/><path d="M238 414C239.3 414.2 243.2 415.1 246 415.5C248.8 415.9 252 416.2 255 416.5C258 416.8 261.3 417.4 264 417C266.7 416.6 269.8 414.5 271 414" fill="none" stroke="#E9723F" stroke-width="1.6" stroke-linecap="round"/><path d="M240 417L241.5 421" fill="none" stroke="#E9723F" stroke-width="1.3" stroke-linecap="round"/><path d="M242.8 418L244.5 422.5" fill="none" stroke="#E9723F" stroke-width="1.3" stroke-linecap="round"/><path d="M245.5 419L247 423" fill="none" stroke="#E9723F" stroke-width="1.3" stroke-linecap="round"/><path d="M228 427C228.5 428.8 230 434.7 231 438C232 441.3 232.5 444.2 234 447C235.5 449.8 239 453.7 240 455" fill="none" stroke="#E9723F" stroke-width="2" stroke-linecap="round"/><path d="M216 441C217 441.8 220 444.8 222 446C224 447.2 226.2 448.2 228 448C229.8 447.8 232.2 445.5 233 445" fill="none" stroke="#E9723F" stroke-width="1.7" stroke-linecap="round"/><path d="M240 455C241.3 454.2 245.2 451.5 248 450C250.8 448.5 254 447.3 257 446C260 444.7 264.5 442.7 266 442" fill="none" stroke="#E9723F" stroke-width="1.7" stroke-linecap="round"/><path d="M196 459C196.7 458.2 198.3 454.9 200 454C201.7 453.1 204.3 453 206 453.5C207.7 454 208.7 455.9 210 457C211.3 458.1 213.5 458.5 214 460C214.5 461.5 214 464.3 213 466C212 467.7 209.8 469.5 208 470C206.2 470.5 203.7 469.8 202 469C200.3 468.2 198.7 465.7 198 465" fill="none" stroke="#E9723F" stroke-width="1.6" stroke-linecap="round"/><path d="M201 456L204 461" fill="none" stroke="#E9723F" stroke-width="1.3" stroke-linecap="round"/><path d="M205 455L208 460" fill="none" stroke="#E9723F" stroke-width="1.3" stroke-linecap="round"/><path d="M190 478C191.2 477.7 194.3 476.3 197 476C199.7 475.7 203.2 476.7 206 476C208.8 475.3 212.7 472.7 214 472" fill="none" stroke="#E9723F" stroke-width="1.7" stroke-linecap="round"/><path d="M174 452C174.8 451.5 177.5 449 179 449C180.5 449 182.5 450.5 183 452C183.5 453.5 182.8 456.5 182 458C181.2 459.5 178.7 460.5 178 461" fill="none" stroke="#E9723F" stroke-width="1.6" stroke-linecap="round"/><path d="M186 466C187 466.7 190 469 192 470C194 471 197 471.7 198 472" fill="none" stroke="#E9723F" stroke-width="1.4" stroke-linecap="round"/><path d="M158.5 465.5C158.8 465.9 159.8 467.3 160.5 467.8C161.2 468.3 162.6 468.4 163 468.5" fill="none" stroke="#6B4A4A" stroke-width="1.1" stroke-linecap="round"/><path d="M157 433C156.8 434.3 155.8 438.3 156 441C156.2 443.7 157.7 447.7 158 449" fill="none" stroke="#EE9458" stroke-width="1.1" stroke-linecap="round"/><path d="M163 429C162.8 430.5 161.8 435.2 162 438C162.2 440.8 163.7 444.7 164 446" fill="none" stroke="#EE9458" stroke-width="1.1" stroke-linecap="round"/><path d="M169 427C168.9 428.5 168.2 433.2 168.5 436C168.8 438.8 170.2 442.7 170.5 444" fill="none" stroke="#EE9458" stroke-width="1.1" stroke-linecap="round"/><path d="M175 427C175.1 428.3 175.1 432.5 175.5 435C175.9 437.5 177.2 440.8 177.5 442" fill="none" stroke="#EE9458" stroke-width="1.1" stroke-linecap="round"/><path d="M151 439C151 440.2 150.7 443.8 151 446C151.3 448.2 152.7 451 153 452" fill="none" stroke="#EE9458" stroke-width="1.1" stroke-linecap="round"/><path d="M152 471C153.3 472 157.2 475.2 160 477C162.8 478.8 166 480.5 169 481.5C172 482.5 176.5 482.8 178 483" fill="none" stroke="#4C4485" stroke-width="1.8" stroke-linecap="round"/></g>
<!-- p5 -->
<g><path d="M507.9 366.8C506.8 367.8 503.1 370.9 501 373C498.9 375.1 497 376.6 495.1 379.1C493.2 381.6 491.3 385.1 489.5 388C487.7 390.9 485.9 393.9 484.5 396.2C483.1 398.5 482.1 400.2 481 402C479.9 403.8 479.8 405.2 478.1 406.8C476.4 408.4 473.5 410.1 471 411.5C468.5 412.9 465.3 414.1 463.2 415.3C461.1 416.6 459.8 417.6 458.5 419C457.2 420.4 456.4 422 455.7 423.8C455 425.6 454.6 427.3 454.5 430C454.4 432.7 454.1 433.3 455 440C455.9 446.7 457.5 463.3 460 470C462.5 476.7 467.7 478.9 470 480C472.3 481.1 472.8 475.8 473.8 476.8C474.8 477.8 475.1 483.1 476 486C476.9 488.9 477.9 491.6 479 494C480.1 496.4 480.8 498.5 482.3 500.6C483.8 502.7 485.9 504.7 488 506.5C490.1 508.3 492.6 509.9 495.1 511.2C497.6 512.5 500.2 513.3 503 514C505.8 514.7 509.2 515.3 512.1 515.4C515 515.5 517.8 515 520.6 514.6C523.4 514.2 527.7 513.3 529.1 513L530 500C529.7 490 528.7 458.9 528 440C527.3 421.1 526.3 395.5 526 386.6L507.9 366.8Z" fill="#F6CFBC" stroke="#DDB8A8" stroke-width="0.9" stroke-linejoin="round"/><path d="M506.6 366.1C505.4 367.1 501.8 370.2 499.7 372.3C497.6 374.4 495.7 375.9 493.8 378.4C491.9 380.9 490 384.5 488.2 387.3C486.4 390.1 484.6 393.2 483.2 395.5C481.8 397.8 480.8 399.5 479.7 401.3C478.6 403.1 478.5 404.5 476.8 406.1C475.1 407.7 472.2 409.4 469.7 410.8C467.2 412.2 464 413.4 461.9 414.6C459.8 415.9 458.4 416.9 457.2 418.3C455.9 419.7 454.9 422.3 454.4 423.1" fill="none" stroke="#fff" stroke-width="4.6" filter="url(#b2)" stroke-linecap="round" stroke-opacity="0.9"/><path d="M525.9 387.7C524.6 387.9 520.5 388.3 518 388.8C515.5 389.3 513 389.9 510.7 390.8C508.4 391.7 506.1 392.7 504 394C501.9 395.3 500 396.8 498.1 398.4C496.2 400 494.2 401.8 492.5 403.5C490.8 405.2 489.2 406.9 488 408.5C486.8 410.1 486.1 411.5 485.5 413C484.9 414.5 484.6 415.2 484.2 417.4C483.8 419.6 483.1 424.7 482.9 426.2" fill="none" stroke="#D0B0A4" stroke-width="1.2"/><path d="M526 386.6C528.6 386.1 536.4 384.4 541.9 383.8C547.4 383.2 553.2 382.9 558.9 383C564.6 383.1 570.3 383.4 576 384.5C581.7 385.6 587.7 387.3 593 389.8C598.3 392.3 603.3 396 607.9 399.4C612.5 402.8 618.5 408.2 620.6 410C619.5 412.3 616 420.1 614.3 423.8C612.6 427.6 611.5 429.6 610.5 432.5C609.5 435.4 608.9 438 608.4 440.9C607.9 443.8 607.5 446.5 607.3 450C607.1 453.5 606.9 458.2 607 461.9C607.1 465.6 607.5 468.4 608 472C608.5 475.6 609.2 480 610 483.2C610.8 486.4 611.4 488.4 612.5 491C613.6 493.6 615.8 497.8 616.4 499.1C615 498.9 610.5 498 608 497.6C605.5 497.2 604.3 497.2 601.5 497C598.7 496.8 594.5 496.5 591 496.5C587.5 496.5 583.5 496.6 580.2 497C576.9 497.4 573.8 498.1 571 498.8C568.2 499.5 565.9 500.4 563.2 501.3C560.5 502.2 557.8 503.4 555 504.5C552.2 505.6 549 506.7 546.2 507.7C543.4 508.7 540.9 509.6 538 510.5C535.1 511.4 532 512.8 529.1 513C526.2 513.2 523.5 512.3 520.6 511.9C517.8 511.5 514.8 511 512 510.5C509.2 510 506.1 509.6 503.6 508.7C501.1 507.8 499.1 506.4 497 505C494.9 503.6 492.6 501.9 490.9 500.2C489.2 498.5 488.1 496.8 487 495C485.9 493.2 485.1 491.9 484.5 489.6C483.9 487.3 483.6 483.8 483.4 481C483.2 478.2 483.4 474 483.4 472.6C484.5 470.5 489.1 465.4 490 460C490.9 454.6 489.9 445.3 489 440C488.1 434.7 485.2 430.7 484.5 428C483.8 425.3 483.9 425.6 484.5 423.8C485.1 422 486.6 419.1 488 417C489.4 414.9 491 413.3 493 411.1C495 408.9 497.5 406.3 500 404C502.5 401.7 505.2 399.3 507.9 397.2C510.6 395.1 513 393.3 516 391.5C519 389.7 524.3 387.4 526 386.6Z" fill="#FDD45C"/><path d="M574 385C575.7 385.4 580.8 386.3 584 387.2C587.2 388.1 589 388.4 593 390.5C597 392.6 603.5 396.8 607.9 400C612.3 403.2 617.6 408.3 619.6 410" fill="none" stroke="#FFC61C" stroke-width="1.8"/><path d="M526.5 386.9C529.1 386.4 536.5 384.7 541.9 384.1C547.3 383.5 553.5 383.2 558.9 383.3C564.2 383.4 571.5 384.5 574 384.7" fill="none" stroke="#EBC3A9" stroke-width="1.8"/><path d="M615.5 498.7C614.2 498.4 610.3 497.5 608 497.1C605.7 496.7 604.3 496.7 601.5 496.5C598.7 496.3 594.5 496 591 496C587.5 496 583.5 496.1 580.2 496.5C576.9 496.9 573.8 497.6 571 498.3C568.2 499 564.5 500.4 563.2 500.8" fill="none" stroke="#FFC61C" stroke-width="1.2"/><g transform="translate(315 246.3)" ><path d="M172.7 242.2C173.1 243 173.1 245.6 175 247.1C176.9 248.6 180.2 250.2 184.1 251.2C188.1 252.3 194.2 253.1 198.6 253.6C203.1 254 208.8 253.8 210.8 253.8L209.5 246.3C207.5 246.3 201.8 246.5 197.7 246.4C193.7 246.2 188.8 245.9 185.2 245.4C181.7 244.9 178.5 244 176.4 243.4C174.3 242.9 173.3 242.4 172.7 242.2Z" fill="#CEDDE7" stroke="#22A0CC" stroke-width="1.7" stroke-linejoin="round"/><path d="M181.7 244.6L179.7 249.2" fill="none" stroke="#22A0CC" stroke-width="1.5"/><path d="M189 245.7L187.7 251.8" fill="none" stroke="#22A0CC" stroke-width="1.5"/><path d="M196.5 246.3L196 253.2" fill="none" stroke="#22A0CC" stroke-width="1.5"/><path d="M203.5 246.3L204 253.7" fill="none" stroke="#22A0CC" stroke-width="1.5"/><path d="M209.5 246.6L215.9 244.7L217.8 251L210.8 253.5L209.5 246.6Z" fill="#CEDDE7" stroke="#22A0CC" stroke-width="1.7" stroke-linejoin="round"/><path d="M217.1 244L226 235.2L231.6 242.2L222.2 251.6L217.1 244Z" fill="#CEDDE7" stroke="#22A0CC" stroke-width="1.7" stroke-linejoin="round"/><path d="M226.4 235.8L229.3 230.1L233.9 238.9L231 241.5Z" fill="#2FA6D6" stroke="#22A0CC" stroke-width="1.2" stroke-linejoin="round"/><path d="M238 221.9L242.3 220.2L245.4 231.6L241.6 231.3Z" fill="#2FA6D6" stroke="#22A0CC" stroke-width="1.2" stroke-linejoin="round"/><path d="M254.9 218.3L258.6 218.3L259.6 229.7L256.4 229.2Z" fill="#2FA6D6" stroke="#22A0CC" stroke-width="1.2" stroke-linejoin="round"/><path d="M272.4 218.3L276.1 220.1L275 229.9L272.4 229.7Z" fill="#2FA6D6" stroke="#22A0CC" stroke-width="1.2" stroke-linejoin="round"/><path d="M228.8 229.2L237.6 221L242 232.4L234.5 240L228.8 229.2Z" fill="#CEDDE7" stroke="#22A0CC" stroke-width="1.7" stroke-linejoin="round"/><path d="M242 219.1L254.7 217.2L256.6 230.5L245.8 233L242 219.1Z" fill="#CEDDE7" stroke="#22A0CC" stroke-width="1.7" stroke-linejoin="round"/><path d="M258.5 217.2L272.4 217.2L272.4 231.1L259.7 231.1L258.5 217.2Z" fill="#CEDDE7" stroke="#22A0CC" stroke-width="1.7" stroke-linejoin="round"/><path d="M276.2 219.1L289.4 222.3L286.3 233.6L274.9 231.1L276.2 219.1Z" fill="#CEDDE7" stroke="#22A0CC" stroke-width="1.7" stroke-linejoin="round"/><path d="M237.6 244.4Q240.8 244.2 244 242.5Q242.9 249.2 240.2 255.7L235.7 255.1Q238.2 250 237.6 244.4Z" fill="#CEDDE7" stroke="#22A0CC" stroke-width="1.4" stroke-linejoin="round"/><path d="M249 238.7Q252.8 239.2 256.6 238.1Q255.2 244.8 252.2 251.3L247.1 252Q249.6 245.6 249 238.7Z" fill="#CEDDE7" stroke="#22A0CC" stroke-width="1.4" stroke-linejoin="round"/><path d="M261.6 238.1Q265.8 238.9 269.9 238.1Q268.4 243.8 265.4 249.4L261.6 250.1Q263.2 244.1 261.6 238.1Z" fill="#CEDDE7" stroke="#22A0CC" stroke-width="1.4" stroke-linejoin="round"/><path d="M275.5 239.3Q279.6 239.8 283.7 238.7Q281.7 243.9 278.1 248.8L273.6 249.4Q276.1 244.6 275.5 239.3Z" fill="#CEDDE7" stroke="#22A0CC" stroke-width="1.4" stroke-linejoin="round"/><path d="M209.9 260.2L220.5 256L230.8 252L228.3 260.9L214.4 263.4L209.9 260.2Z" fill="#CEDDE7" stroke="#22A0CC" stroke-width="1.4" stroke-linejoin="round"/></g><path d="M483.4 478.4C484.7 478.9 488.3 480.4 491 481.2C493.7 481.9 496.6 482.6 499.4 482.9C502.2 483.2 505.2 483.4 508 483.2C510.8 483 513.9 482.5 516.4 481.9C518.9 481.3 520.9 480.4 523 479.5C525.1 478.6 526.3 478.1 529.1 476.5C531.9 474.9 538 471.2 539.8 470.2L540 473.5C538.2 475 531.9 480.4 529.1 482.3C526.3 484.2 525.1 484.3 523 485C520.9 485.7 518.9 486.2 516.4 486.6C513.9 487 510.8 487.2 508 487.2C505.2 487.2 502.2 487 499.4 486.6C496.6 486.2 493.6 485.5 491 484.6C488.4 483.7 484.8 482.2 483.5 481.2C482.2 480.2 483.4 478.9 483.4 478.4Z" fill="#6F6AA3" stroke="#4C4485" stroke-width="1.3"/><path d="M508.5 408.2C508.2 409.2 507.8 412.6 506.5 414.5C505.2 416.4 502.9 418.2 501 419.5C499.1 420.8 496.4 422.2 495 422.5C493.6 422.8 492.3 422.3 492.3 421C492.3 419.7 493.6 416.3 495 414.5C496.4 412.7 498.2 411.1 500.5 410C502.8 408.9 507.2 408.5 508.5 408.2Z" fill="#CEDDE7" stroke="#22A0CC" stroke-width="2"/><path d="M506 405.5C506.9 404.6 509.3 401.6 511.5 400C513.7 398.4 516.4 397 519 396C521.6 395 525.7 394.3 527 394L530.5 400.5C529.3 401.1 525.8 402.7 523.5 404C521.2 405.3 518.7 407.1 516.5 408.5C514.3 409.9 511.5 411.8 510.5 412.5L506 405.5Z" fill="#2E9DB7"/><path d="M510.3 401.8L513.8 409" fill="none" stroke="#8ED0E0" stroke-width="0.9"/><path d="M514 399L517.5 406.5" fill="none" stroke="#8ED0E0" stroke-width="0.9"/><path d="M518 397L521.3 404.5" fill="none" stroke="#8ED0E0" stroke-width="0.9"/><path d="M522 395.6L525.2 403" fill="none" stroke="#8ED0E0" stroke-width="0.9"/><path d="M526 396.3L531.5 394.3" fill="none" stroke="#2E9DB7" stroke-width="1.1"/><path d="M528 399.8L534.5 397.3" fill="none" stroke="#2E9DB7" stroke-width="1.1"/><path d="M533 406C531.5 406.8 527.2 409.2 524 411C520.8 412.8 517.2 415.1 514 417C510.8 418.9 507.8 421.2 505 422.5C502.2 423.8 499.5 424.8 497 425C494.5 425.2 491.2 424.2 490 424" fill="none" stroke="#4C4485" stroke-width="2.2" stroke-linecap="round"/><path d="M484.5 432.3C485.8 431.8 489.5 430.1 492 429C494.5 427.9 496.7 427 499.4 426C502.1 425 505.2 424.1 508 423C510.8 421.9 513.7 420.8 516.4 419.6C519.1 418.4 521.5 417 524 415.6C526.5 414.2 528.8 412.6 531.3 411.1C533.8 409.6 536.5 407.9 539 406.5C541.5 405.1 543.5 403.8 546.2 402.6C548.9 401.4 552.2 400.2 555 399.3C557.8 398.4 560.4 397.7 563.2 397.2C566 396.7 569.2 396.4 572 396.2C574.8 396 577.5 396 580.2 396.2C582.9 396.4 585.5 396.9 588 397.6C590.5 398.3 592.9 399.2 595.1 400.4C597.3 401.5 599.2 402.9 601 404.5C602.8 406.1 604.6 408.2 605.7 410C606.9 411.8 607.5 413.6 607.9 415.5C608.3 417.4 608.3 419.5 607.9 421.7C607.5 423.9 606.6 426.4 605.5 428.5C604.4 430.6 603.2 432.6 601.5 434.5C599.8 436.4 597.6 438.2 595.5 440C593.4 441.8 591.3 443.4 588.7 445.1C586.1 446.8 582.8 448.4 580 450C577.2 451.6 574.5 453.2 571.7 454.7C568.9 456.2 565.8 457.6 563 459C560.2 460.4 557.5 461.9 554.7 463.2C551.9 464.5 548.8 465.8 546 467C543.2 468.2 540.9 469.4 537.7 470.6C534.5 471.8 530.5 473.1 527 474C523.5 474.9 519.6 475.6 516.4 476C513.1 476.4 510.3 476.4 507.5 476.2C504.7 476 501.8 475.5 499.4 474.9C497 474.3 494.8 473.4 493 472.5C491.2 471.6 489.4 470.1 488.7 469.6C488.9 467.2 489.9 459.6 490 455C490.1 450.4 489.9 445.8 489 442C488.1 438.2 485.2 433.9 484.5 432.3Z" fill="#A9A5D1" stroke="#4C4485" stroke-width="1.7"/><path d="M575 401C575.1 400.5 580.5 401.6 583 402.5C585.5 403.4 588.1 404.8 590 406.5C591.9 408.2 593.6 410.6 594.5 413C595.4 415.4 595.8 418.3 595.5 421C595.2 423.7 593.9 426.5 592.5 429C591.1 431.5 587.4 436.2 587 436C586.6 435.8 589.4 430.8 590 428C590.6 425.2 590.8 422.2 590.5 419.5C590.2 416.8 589.3 413.8 588 411.5C586.7 409.2 584.7 407.2 582.5 405.5C580.3 403.8 574.9 401.5 575 401Z" fill="#4C4485"/><path d="M553 402.5C555 402.1 560.8 400.3 565 399.8C569.2 399.3 574 399.1 578 399.5C582 399.9 585.8 400.7 589 402C592.2 403.3 594.9 405.3 597 407.5C599.1 409.7 600.8 412.4 601.5 415C602.2 417.6 602.2 420.3 601.5 423C600.8 425.7 599.2 428.6 597.5 431C595.8 433.4 592.1 436.4 591 437.5" fill="none" stroke="#6F6AA3" stroke-width="1"/><path d="M486 434C488 430.8 491.7 432 495 431C498.3 430 502.4 429.4 505.7 428.1C509 426.8 511.8 424.8 515 423C518.2 421.2 521.9 419.2 524.9 417.4C527.9 415.6 530.2 413.8 533 412C535.8 410.2 539.1 408.1 541.9 406.8C544.7 405.5 547.2 404.7 550 404C552.8 403.3 555.9 402.8 558.9 402.6C561.9 402.4 565.1 402.5 568 402.8C570.9 403.1 573.7 403.7 576 404.7C578.3 405.7 580.2 407.2 582 409C583.8 410.8 585.5 413.1 586.6 415.3C587.7 417.6 588.4 420 588.8 422.5C589.1 425 589.2 427.8 588.7 430.2C588.2 432.6 586.9 434.9 585.5 437C584.1 439.1 582.5 441.1 580.2 443C578 444.9 574.8 446.7 572 448.5C569.2 450.3 566 452 563.2 453.6C560.4 455.2 557.8 456.6 555 458C552.2 459.4 549 460.9 546.2 462.1C543.4 463.4 540.9 464.4 538 465.5C535.1 466.6 532.4 467.6 529.1 468.5C525.8 469.4 521.5 470.1 518 470.6C514.5 471.1 511.2 471.7 507.9 471.7C504.6 471.7 500.8 471.3 498 470.8C495.2 470.3 493.1 470 490.9 468.5C488.7 467 486.3 465.1 485 462C483.7 458.9 482.8 454.7 483 450C483.2 445.3 484 437.2 486 434Z" fill="#F69F77" stroke="#4C4485" stroke-width="0.9"/><ellipse cx="458.5" cy="455" rx="30.3" ry="22.6" fill="url(#hd5)" transform="rotate(5 458.5 455)"/><ellipse cx="458.5" cy="455" rx="30" ry="22.3" fill="none" stroke="#E88358" stroke-width="0.8" transform="rotate(5 458.5 455)"/><path d="M541 414C541.8 413.2 544 410 546 409C548 408 550.7 407.8 553 408C555.3 408.2 557.8 409 560 410C562.2 411 564 413.5 566 414C568 414.5 570 413.7 572 413C574 412.3 577 410.5 578 410" fill="none" stroke="#E9723F" stroke-width="1.7" stroke-linecap="round"/><path d="M543 415C544 415.7 546.7 418 549 419C551.3 420 554.2 420.6 557 421C559.8 421.4 563.2 421 566 421.5C568.8 422 572.7 423.6 574 424" fill="none" stroke="#E9723F" stroke-width="1.7" stroke-linecap="round"/><path d="M545 411.5L547 415.5" fill="none" stroke="#E9723F" stroke-width="1.3" stroke-linecap="round"/><path d="M548.5 410L550.5 414.5" fill="none" stroke="#E9723F" stroke-width="1.3" stroke-linecap="round"/><path d="M552 409.5L554 414" fill="none" stroke="#E9723F" stroke-width="1.3" stroke-linecap="round"/><path d="M574 424C573.8 425.3 573.8 429.3 573 432C572.2 434.7 570.7 437.7 569 440C567.3 442.3 564 445 563 446" fill="none" stroke="#E9723F" stroke-width="1.8" stroke-linecap="round"/><path d="M528 424C529.2 425.2 532.5 428.8 535 431C537.5 433.2 540.2 435.5 543 437C545.8 438.5 550.5 439.5 552 440" fill="none" stroke="#E9723F" stroke-width="1.7" stroke-linecap="round"/><path d="M545 436C546.2 435.5 549.5 433.5 552 433C554.5 432.5 558.7 433 560 433" fill="none" stroke="#E9723F" stroke-width="1.6" stroke-linecap="round"/><path d="M538 446C539.2 445.5 542.7 443.2 545 443C547.3 442.8 550.5 443.7 552 445C553.5 446.3 554.2 449 554 451C553.8 453 552.3 455.5 551 457C549.7 458.5 546.8 459.5 546 460" fill="none" stroke="#E9723F" stroke-width="1.7" stroke-linecap="round"/><path d="M557 446C558.2 446.5 562.5 447.5 564 449C565.5 450.5 565.7 454 566 455" fill="none" stroke="#E9723F" stroke-width="1.6" stroke-linecap="round"/><path d="M562 436C562.8 436.8 566.3 439 567 441C567.7 443 566.2 446.8 566 448" fill="none" stroke="#E9723F" stroke-width="1.6" stroke-linecap="round"/><path d="M505 437C505.8 436.4 508 434.2 510 433.5C512 432.8 515.2 432.4 517 433C518.8 433.6 520.3 436.3 521 437" fill="none" stroke="#E9723F" stroke-width="1.7" stroke-linecap="round"/><path d="M507 440C507.8 440.8 510.2 443.5 512 445C513.8 446.5 515.8 448 518 449C520.2 450 523.8 450.7 525 451" fill="none" stroke="#E9723F" stroke-width="1.7" stroke-linecap="round"/><path d="M509 435L512 439" fill="none" stroke="#E9723F" stroke-width="1.3" stroke-linecap="round"/><path d="M513 434L516 438.5" fill="none" stroke="#E9723F" stroke-width="1.3" stroke-linecap="round"/><path d="M503 457C504.3 457.5 508.3 459.8 511 460C513.7 460.2 516.5 459.3 519 458C521.5 456.7 524.8 453 526 452" fill="none" stroke="#E9723F" stroke-width="1.7" stroke-linecap="round"/><path d="M494 444C494.5 445.2 495.7 449.5 497 451C498.3 452.5 501.2 452.7 502 453" fill="none" stroke="#E9723F" stroke-width="1.6" stroke-linecap="round"/><path d="M490 450C490.5 451.2 491.8 455.2 493 457C494.2 458.8 496.3 460.3 497 461" fill="none" stroke="#E9723F" stroke-width="1.4" stroke-linecap="round"/><path d="M478 448C478.8 448.3 481.8 448.7 483 450C484.2 451.3 485.2 454.2 485 456C484.8 457.8 482.5 460.2 482 461" fill="none" stroke="#E9723F" stroke-width="1.4" stroke-linecap="round"/><path d="M472 454C472.7 454.2 475.2 454.2 476 455C476.8 455.8 477.5 458 477 459C476.5 460 473.7 460.7 473 461" fill="none" stroke="#E9723F" stroke-width="1.4" stroke-linecap="round"/><path d="M465 444.5C465.2 445.1 465.7 447.2 466.3 448C466.9 448.8 468.1 449.1 468.5 449.3" fill="none" stroke="#6B4A4A" stroke-width="1.1" stroke-linecap="round"/><path d="M467.5 462C467.7 462.5 468.2 464.3 468.8 465C469.4 465.7 470.6 465.8 471 466" fill="none" stroke="#6B4A4A" stroke-width="1.1" stroke-linecap="round"/><path d="M434 448C435.2 447.3 438.5 444.8 441 444C443.5 443.2 447.7 443.2 449 443" fill="none" stroke="#EE9458" stroke-width="1.1" stroke-linecap="round"/><path d="M433 455C434.3 454.5 438.2 452.7 441 452C443.8 451.3 448.5 451.2 450 451" fill="none" stroke="#EE9458" stroke-width="1.1" stroke-linecap="round"/><path d="M435 462C436.3 461.7 440.3 460.4 443 460C445.7 459.6 449.7 459.6 451 459.5" fill="none" stroke="#EE9458" stroke-width="1.1" stroke-linecap="round"/><path d="M440 469C441.2 468.7 444.7 467.3 447 467C449.3 466.7 452.8 467 454 467" fill="none" stroke="#EE9458" stroke-width="1.1" stroke-linecap="round"/><path d="M438 441C439 440.5 441.8 438.6 444 438C446.2 437.4 449.8 437.6 451 437.5" fill="none" stroke="#EE9458" stroke-width="1.1" stroke-linecap="round"/><path d="M485 431.5C485.5 431.8 487.1 433.4 488 433.5C488.9 433.6 490.1 432.2 490.5 432" fill="none" stroke="#4C4485" stroke-width="3.2" stroke-linecap="round"/><path d="M486.5 469C487.2 469.5 489.2 471.1 491 472C492.8 472.9 496 474.1 497 474.5" fill="none" stroke="#4C4485" stroke-width="2.2" stroke-linecap="round"/></g>
<!-- p6 -->
<g><path d="M801.6 368.4C800.8 369.6 798 373 796.5 375.5C795 378 794 380.5 792.4 383.4C790.8 386.3 788.8 389.8 787 393C785.2 396.2 784 400.1 781.8 402.6C779.6 405.1 776.5 406.4 774 408C771.5 409.6 769.1 410.9 766.9 412.1C764.7 413.4 762.8 414.2 761 415.5C759.2 416.8 757.8 417.9 756.3 419.6C754.8 421.3 753.1 423.4 752 425.5C750.9 427.6 750.5 429.7 749.9 432.3C749.3 434.9 748.7 438.5 748.6 441.3C748.5 444.1 748.7 446.8 749.2 449.4C749.7 452 750.3 454.2 751.5 457C752.7 459.8 754.7 463.6 756.3 466.4C757.9 469.2 759.2 471.6 761 474C762.8 476.4 764.7 477.8 766.9 480.5C769.1 483.2 771.5 486.9 774 490C776.5 493.1 779.1 496.5 781.8 499C784.5 501.5 787.2 503.2 790 505C792.8 506.8 796 508.4 798.8 509.7C801.6 510.9 804.1 511.8 807 512.5C809.9 513.2 813.1 513.8 815.9 513.9C818.7 514 821.2 513.4 824 513C826.8 512.6 831.4 511.8 832.9 511.5L833 500C831.7 491.7 827.4 468.6 825 450C822.6 431.4 819.6 398.7 818.5 388.4L801.6 368.4Z" fill="#F6CFBC" stroke="#DDB8A8" stroke-width="0.9" stroke-linejoin="round"/><path d="M800.3 367.7C799.5 368.9 796.7 372.3 795.2 374.8C793.7 377.3 792.7 379.8 791.1 382.7C789.5 385.6 787.5 389.1 785.7 392.3C783.9 395.5 782.7 399.4 780.5 401.9C778.3 404.4 775.2 405.7 772.7 407.3C770.2 408.9 767.8 410.2 765.6 411.4C763.4 412.7 761.5 413.6 759.7 414.8C757.9 416.1 756.5 417.2 755 418.9C753.5 420.6 751.8 422.7 750.7 424.8C749.6 426.9 749 430.5 748.6 431.6" fill="none" stroke="#fff" stroke-width="4.6" filter="url(#b2)" stroke-linecap="round" stroke-opacity="0.9"/><path d="M818 388.6C816.4 389.7 811.8 392.6 808.5 395C805.2 397.4 801.4 400 798 403C794.6 406 791.1 409.4 788 413C784.9 416.6 782 419.9 779.5 424.5C777 429.1 774.6 435.8 773 440.9C771.4 446 770.3 450.5 770 455C769.7 459.5 770.2 463.8 771 468C771.8 472.2 773.2 476.2 775 480C776.8 483.8 780.8 489.2 782 491" fill="none" stroke="#D0B0A4" stroke-width="1.2"/><path d="M795.5 418.5C794.6 419.1 791.5 420.1 790 422C788.5 423.9 787.4 427 786.5 430C785.6 433 785 436.3 784.6 440C784.2 443.7 784 447.8 784 452C784 456.2 784.1 460.7 784.6 465C785.1 469.3 785.9 473.8 787 478C788.1 482.2 790.8 488 791.5 490C791.3 488 790.8 482.7 790.5 478C790.2 473.3 789.9 467 790 462C790.1 457 790.3 452.7 791 448C791.7 443.3 793 437.8 794 434C795 430.2 796.8 427.6 797 425C797.2 422.4 795.8 419.6 795.5 418.5Z" fill="#F7B4A6" stroke="#F09A88" stroke-width="1.4"/><path d="M818.3 388.2C820.1 387.3 825.2 384.4 829 382.6C832.8 380.9 836.8 379.3 841 377.7C845.2 376.1 850.4 374 854.1 372.8C857.8 371.6 860.1 371.1 863 370.6C865.9 370.1 868.4 369.7 871.2 369.6C874 369.5 877.2 369.6 880 370C882.8 370.4 885.4 370.6 888.2 371.7C891 372.8 894.2 374.6 897 376.5C899.8 378.4 902.5 381.1 905.2 383.4C907.9 385.7 910.5 388 913 390.5C915.5 393 917.6 395.8 920.1 398.3C922.6 400.8 925.3 403 928 405.5C930.7 408 934.8 411.9 936.1 413.2C935.6 415 934.2 420.8 932.9 423.8C931.6 426.8 929.9 428.9 928.5 431C927.1 433.1 925.4 434.4 924.4 436.6C923.4 438.8 922.7 441.5 922.3 444C921.9 446.5 922.2 449 922.2 451.5C922.2 454 922.3 456.5 922.5 459C922.7 461.5 923.3 463.7 923.3 466.4C923.3 469.1 922.8 472.1 922.3 475C921.8 477.9 920.8 480.8 920.1 483.8C919.4 486.8 918.7 490 918 493C917.3 496 916.2 500.4 915.9 501.9C914.6 501.5 910.5 500.3 908 499.8C905.5 499.3 903.7 498.9 901 498.7C898.3 498.5 894.9 498.4 892 498.5C889.1 498.6 886.7 498.8 883.9 499.1C881.1 499.4 877.8 499.7 875 500.2C872.2 500.7 869.7 501.2 866.9 501.9C864.1 502.6 860.8 503.6 858 504.5C855.2 505.4 852.7 506.3 849.9 507.2C847.1 508.1 843.8 508.9 841 509.6C838.2 510.3 835.7 511 832.9 511.5C830.1 512 826.8 512.6 824 512.8C821.2 513 818.4 513.2 815.9 512.6C813.4 512 811.1 510.2 809 509C806.9 507.8 805.2 506.8 803.1 505.1C801 503.4 798.5 501.1 796.5 499C794.5 496.9 792.8 495 791.4 492.3C790 489.6 788.9 486.2 788 483C787.1 479.8 786.4 476.7 786.1 473.2C785.8 469.7 785.8 465.6 786 462C786.2 458.4 786.9 454.6 787.1 451.9C787.4 449.2 787.3 448 787.5 446C787.7 444 787.8 442.3 788.5 440C789.2 437.7 790.8 434 792 432C793.2 430 794.6 430.5 795.6 428.2C796.6 425.9 796.8 421.5 798.1 418.1C799.4 414.7 801.1 411.4 803.2 408C805.3 404.6 808.3 401.2 810.8 397.9C813.3 394.6 817 389.8 818.3 388.2Z" fill="#FDD45C"/><path d="M880 370.6C881.4 370.9 885.4 371.3 888.2 372.4C891 373.5 894.2 375.3 897 377.2C899.8 379.1 902.5 381.7 905.2 384C907.9 386.3 910.5 388.6 913 391.1C915.5 393.6 917.6 396.5 920.1 399C922.6 401.5 925.5 403.9 928 406.2C930.5 408.5 934 411.9 935.2 413" fill="none" stroke="#FFC61C" stroke-width="1.8"/><path d="M818.8 388.6C820.5 387.7 825.3 384.9 829 383.2C832.7 381.5 836.8 379.9 841 378.3C845.2 376.7 850.4 374.9 854.1 373.7C857.8 372.5 860.1 372 863 371.4C865.9 370.8 868.4 370.4 871.2 370.3C874 370.2 878.5 370.6 880 370.6" fill="none" stroke="#EBC3A9" stroke-width="1.6"/><path d="M915 501.5C913.8 501.1 910.3 499.9 908 499.3C905.7 498.8 903.7 498.4 901 498.2C898.3 498 894.9 497.9 892 498C889.1 498.1 886.7 498.3 883.9 498.6C881.1 498.9 877.8 499.2 875 499.7C872.2 500.2 868.2 501.1 866.9 501.4" fill="none" stroke="#FFC61C" stroke-width="1.2"/><g transform="translate(613.1 244)" ><path d="M178.4 235.6C178.7 236.9 178.7 240.9 180.3 243.2C182 245.6 184.8 248.1 188.1 249.8C191.5 251.5 196.7 252.8 200.4 253.4C204.2 254.1 209.1 253.7 210.8 253.8L209.5 246.3C207.8 246.3 203 246.9 199.5 246.5C196.1 246.1 192 245.2 189 243.9C186 242.7 183.3 240.2 181.5 238.8C179.7 237.4 178.9 236.1 178.4 235.6Z" fill="#CEDDE7" stroke="#22A0CC" stroke-width="1.7" stroke-linejoin="round"/><path d="M184.9 241.1L182.2 244.8" fill="none" stroke="#22A0CC" stroke-width="1.5"/><path d="M190.9 244.4L188.6 249.9" fill="none" stroke="#22A0CC" stroke-width="1.5"/><path d="M197.5 246L196.5 252.3" fill="none" stroke="#22A0CC" stroke-width="1.5"/><path d="M204 246.4L204.2 253.6" fill="none" stroke="#22A0CC" stroke-width="1.5"/><path d="M209.5 246.6L215.9 244.7L217.8 251L210.8 253.5L209.5 246.6Z" fill="#CEDDE7" stroke="#22A0CC" stroke-width="1.7" stroke-linejoin="round"/><path d="M217.1 244L226 235.2L231.6 242.2L222.2 251.6L217.1 244Z" fill="#CEDDE7" stroke="#22A0CC" stroke-width="1.7" stroke-linejoin="round"/><path d="M226.4 235.8L229.3 230.1L233.9 238.9L231 241.5Z" fill="#2FA6D6" stroke="#22A0CC" stroke-width="1.2" stroke-linejoin="round"/><path d="M238 221.9L242.3 220.2L245.4 231.6L241.6 231.3Z" fill="#2FA6D6" stroke="#22A0CC" stroke-width="1.2" stroke-linejoin="round"/><path d="M254.9 218.3L258.6 218.3L259.6 229.7L256.4 229.2Z" fill="#2FA6D6" stroke="#22A0CC" stroke-width="1.2" stroke-linejoin="round"/><path d="M272.4 218.3L276.1 220.1L275 229.9L272.4 229.7Z" fill="#2FA6D6" stroke="#22A0CC" stroke-width="1.2" stroke-linejoin="round"/><path d="M289.2 223.2L293 225.5L290.4 232.2L286.6 232.5Z" fill="#2FA6D6" stroke="#22A0CC" stroke-width="1.2" stroke-linejoin="round"/><path d="M228.8 229.2L237.6 221L242 232.4L234.5 240L228.8 229.2Z" fill="#CEDDE7" stroke="#22A0CC" stroke-width="1.7" stroke-linejoin="round"/><path d="M242 219.1L254.7 217.2L256.6 230.5L245.8 233L242 219.1Z" fill="#CEDDE7" stroke="#22A0CC" stroke-width="1.7" stroke-linejoin="round"/><path d="M258.5 217.2L272.4 217.2L272.4 231.1L259.7 231.1L258.5 217.2Z" fill="#CEDDE7" stroke="#22A0CC" stroke-width="1.7" stroke-linejoin="round"/><path d="M276.2 219.1L289.4 222.3L286.3 233.6L274.9 231.1L276.2 219.1Z" fill="#CEDDE7" stroke="#22A0CC" stroke-width="1.7" stroke-linejoin="round"/><path d="M293.2 224.8L303.3 228.6L299.5 237.4L290.1 233L293.2 224.8Z" fill="#CEDDE7" stroke="#22A0CC" stroke-width="1.7" stroke-linejoin="round"/><path d="M237.6 244.4Q240.8 244.2 244 242.5Q242.9 249.2 240.2 255.7L235.7 255.1Q238.2 250 237.6 244.4Z" fill="#CEDDE7" stroke="#22A0CC" stroke-width="1.4" stroke-linejoin="round"/><path d="M249 238.7Q252.8 239.2 256.6 238.1Q255.2 244.8 252.2 251.3L247.1 252Q249.6 245.6 249 238.7Z" fill="#CEDDE7" stroke="#22A0CC" stroke-width="1.4" stroke-linejoin="round"/><path d="M261.6 238.1Q265.8 238.9 269.9 238.1Q268.4 243.8 265.4 249.4L261.6 250.1Q263.2 244.1 261.6 238.1Z" fill="#CEDDE7" stroke="#22A0CC" stroke-width="1.4" stroke-linejoin="round"/><path d="M275.5 239.3Q279.6 239.8 283.7 238.7Q281.7 243.9 278.1 248.8L273.6 249.4Q276.1 244.6 275.5 239.3Z" fill="#CEDDE7" stroke="#22A0CC" stroke-width="1.4" stroke-linejoin="round"/><path d="M288.8 240Q292.3 241.4 295.8 241.2Q293.3 245.6 289.4 249.4L285 249.4Q288.4 245.3 288.8 240Z" fill="#CEDDE7" stroke="#22A0CC" stroke-width="1.4" stroke-linejoin="round"/><path d="M209.9 260L220.5 255.8L230.8 251.8L228.3 260.7L214.4 263.2L209.9 260Z" fill="#CEDDE7" stroke="#22A0CC" stroke-width="1.4" stroke-linejoin="round"/></g><g transform="translate(613.6 244.2)" ><path d="M173.5 207.5C174.6 207.2 177.2 205.5 180 205.5C182.8 205.5 187 206.8 190 207.5C193 208.2 195.8 208.6 198 210C200.2 211.4 202.2 213.7 203 216C203.8 218.3 203.2 221.5 202.5 224C201.8 226.5 200.8 229.4 199 231C197.2 232.6 194.3 233.5 192 233.5C189.7 233.5 187.2 232.6 185 231C182.8 229.4 180.7 226.5 179 224C177.3 221.5 175.9 218.8 175 216C174.1 213.2 173.8 208.9 173.5 207.5Z" fill="#5E5793" stroke="#4C4485" stroke-width="1.6"/><path d="M231 215C230.2 216.5 228 221.3 226 224C224 226.7 221.7 229.2 219 231C216.3 232.8 212.8 234.7 210 235C207.2 235.3 203.9 234.2 202 233C200.1 231.8 198.8 229.8 198.5 228C198.2 226.2 198.8 223.6 200 222C201.2 220.4 203.7 219 206 218.5C208.3 218 211.3 219.2 214 219C216.7 218.8 219.2 217.7 222 217C224.8 216.3 229.5 215.3 231 215Z" fill="#4C4485" stroke="#4C4485" stroke-width="1"/><path d="M178 211C179.3 211.5 183.7 212.5 186 214C188.3 215.5 191.3 217.8 192 220C192.7 222.2 190.3 225.8 190 227" fill="none" stroke="#A09DC8" stroke-width="1"/><path d="M181 208.5C182.5 208.9 187.3 209.6 190 211C192.7 212.4 196 214.5 197 217C198 219.5 196.2 224.5 196 226" fill="none" stroke="#A09DC8" stroke-width="1"/><path d="M205 228C206.2 227.5 209.7 225.8 212 225C214.3 224.2 217.8 223.3 219 223" fill="none" stroke="#A09DC8" stroke-width="1"/><path d="M204 231C205.3 230.8 209.3 230.3 212 229.5C214.7 228.7 218.7 226.6 220 226" fill="none" stroke="#A09DC8" stroke-width="1"/><path d="M176 206C176.2 207 177.1 210 177.5 212C177.9 214 178.3 217 178.5 218" fill="none" stroke="#B9973F" stroke-width="0.8"/><path d="M184 204C185.3 204.2 189.5 204.8 192 205.5C194.5 206.2 197.8 208 199 208.5" fill="none" stroke="#B9973F" stroke-width="0.8"/><path d="M186 230.5C185.5 229.8 183.9 227.8 183 226C182.1 224.2 180.9 221 180.5 220" fill="none" stroke="#B9973F" stroke-width="0.8"/></g><path d="M814.6 406C814.4 407.2 814.1 411.1 813.2 413.5C812.3 415.9 810.6 418.6 809 420.5C807.4 422.4 804.8 424.4 803.5 425C802.2 425.6 801.5 425.5 801.5 424C801.5 422.5 802.4 418.4 803.5 416C804.6 413.6 806.1 411.2 808 409.5C809.9 407.8 813.5 406.6 814.6 406Z" fill="#CEDDE7" stroke="#22A0CC" stroke-width="1.9"/><path d="M814 405L828 395.5" fill="none" stroke="#2A9DBA" stroke-width="3.2" stroke-linecap="round"/><path d="M815.2 402.9L816.4 404.6" fill="none" stroke="#A9DCEA" stroke-width="1"/><path d="M817.8 401.2L819 402.9" fill="none" stroke="#A9DCEA" stroke-width="1"/><path d="M820.4 399.4L821.6 401.1" fill="none" stroke="#A9DCEA" stroke-width="1"/><path d="M823 397.6L824.2 399.3" fill="none" stroke="#A9DCEA" stroke-width="1"/><path d="M825.6 395.9L826.8 397.6" fill="none" stroke="#A9DCEA" stroke-width="1"/><path d="M817 408L838 392.8" fill="none" stroke="#2A9DBA" stroke-width="1.2" stroke-linecap="round"/><path d="M820 396.5L831 390.5" fill="none" stroke="#2A9DBA" stroke-width="1.1" stroke-linecap="round"/><path d="M793.8 430.2C795.5 430.2 801 429.9 804 430C807 430.1 809.6 430.3 812 430.6C814.4 430.9 817.4 431.4 818.5 431.6" fill="none" stroke="#4C4485" stroke-width="2.2" stroke-linecap="round"/><path d="M828.8 404.3C827.9 405.2 825 407.9 823.5 410C822 412.1 820.6 414.7 819.6 417C818.6 419.3 817.9 421.8 817.6 424C817.3 426.2 817.9 429.4 818 430.5" fill="none" stroke="#4C4485" stroke-width="4" stroke-linecap="round"/><path d="M828.4 405C827.6 405.9 824.9 408.6 823.5 410.6C822.1 412.7 820.9 415.1 820 417.3C819.1 419.5 818.5 422 818.2 424C818 426 818.5 428.6 818.5 429.5" fill="none" stroke="#6F6AA3" stroke-width="1.6" stroke-linecap="round"/><path d="M790.3 444C791.4 443.5 794.9 441.7 797 441C799.1 440.3 802 440.2 803 440C801.8 439.3 798 437.4 796 436C794 434.6 791.7 432.2 790.8 431.5C792 431.5 795.6 431.2 798 431.3C800.4 431.4 802.7 431.9 805.2 432.3C807.7 432.7 810.5 433.4 813 433.6C815.5 433.8 818.1 433.9 820.1 433.4C822.1 432.9 823.6 431.7 825 430.5C826.4 429.3 827.3 428 828.6 426C829.9 424 831.6 421 833 418.5C834.4 416 835.9 413.6 837.1 411.1C838.3 408.6 838.9 406 840 403.5C841.1 401 842.2 398.5 843.5 396.2C844.8 393.9 846.2 391.6 848 389.5C849.8 387.4 852.1 385.1 854.1 383.4C856.1 381.6 857.9 380.2 860 379C862.1 377.8 864.6 376.8 866.9 376C869.2 375.2 871.5 374.4 874 374C876.5 373.6 879.5 373.6 881.8 373.8C884 374.1 885.7 374.6 887.5 375.5C889.3 376.4 891 377.5 892.4 379.1C893.8 380.7 895.1 382.9 896 385C896.9 387.1 897.6 389.5 897.8 391.9C898 394.3 897.8 397 897.3 399.5C896.8 402 895.8 404.5 894.6 406.8C893.4 409.1 891.8 411.4 890 413.5C888.2 415.6 886.3 417.5 883.9 419.6C881.5 421.7 878.3 423.9 875.5 426C872.7 428.1 869.6 430.4 866.9 432.3C864.2 434.2 862 435.9 859.5 437.7C857 439.5 854.4 441.3 852 443C849.6 444.7 847.5 446.4 845 447.8C842.5 449.2 839.8 450.6 837.1 451.5C834.4 452.4 831.8 453.1 829 453.5C826.2 453.9 823.1 453.8 820.1 453.6C817.1 453.4 813.8 452.8 811 452.3C808.2 451.8 805.6 451.2 803.1 450.4C800.6 449.6 798.1 448.5 796 447.4C793.9 446.3 791.2 444.6 790.3 444Z" fill="#9390BE" stroke="#4C4485" stroke-width="1.5"/><path d="M803 441C804.5 440.8 808.8 439.8 812 439.5C815.2 439.2 818.8 439.6 822 439C825.2 438.4 828.3 437.7 831 436C833.7 434.3 836 431.8 838 429C840 426.2 841.5 422.5 843 419C844.5 415.5 845.5 411.7 847 408C848.5 404.3 850 400.2 852 397C854 393.8 856.7 391.1 859 389C861.3 386.9 863.5 385.5 866 384.5C868.5 383.5 871.5 383.1 874 383C876.5 382.9 879 383 881 384C883 385 885 386.8 886 389C887 391.2 887.4 394.2 887 397C886.6 399.8 885.3 403.1 883.5 406C881.7 408.9 878.9 411.7 876 414.5C873.1 417.3 869.3 420.2 866 423C862.7 425.8 859.3 428.4 856 431C852.7 433.6 849.3 436.4 846 438.5C842.7 440.6 839.7 442.4 836 443.5C832.3 444.6 828 445 824 445C820 445 815.5 444.2 812 443.5C808.5 442.8 804.5 441.4 803 441Z" fill="#A9A6CF" stroke="#4C4485" stroke-width="1.1"/><path d="M868 392C867 393.2 863.8 396.2 862 399C860.2 401.8 858.7 405.5 857 409C855.3 412.5 853.8 416.5 852 420C850.2 423.5 848.3 427.2 846 430C843.7 432.8 839.3 435.8 838 437" fill="none" stroke="#5B5398" stroke-width="2.4" stroke-linecap="round"/><path d="M862 381.5L867 379.2" fill="none" stroke="#4A4189" stroke-width="1.1" stroke-linecap="round"/><path d="M872 378L878 377.6" fill="none" stroke="#4A4189" stroke-width="1.1" stroke-linecap="round"/><path d="M885 380.5L889.5 384" fill="none" stroke="#4A4189" stroke-width="1.1" stroke-linecap="round"/><path d="M892.5 388.5L893.6 394" fill="none" stroke="#4A4189" stroke-width="1.1" stroke-linecap="round"/><path d="M892.6 399L890.6 404.5" fill="none" stroke="#4A4189" stroke-width="1.1" stroke-linecap="round"/><path d="M887 409L882.5 414" fill="none" stroke="#4A4189" stroke-width="1.1" stroke-linecap="round"/><path d="M878 418L873 422" fill="none" stroke="#4A4189" stroke-width="1.1" stroke-linecap="round"/><path d="M868 426.5L862.5 430.5" fill="none" stroke="#4A4189" stroke-width="1.1" stroke-linecap="round"/><path d="M857 435L851.5 439" fill="none" stroke="#4A4189" stroke-width="1.1" stroke-linecap="round"/><path d="M845 443.5L839 446.5" fill="none" stroke="#4A4189" stroke-width="1.1" stroke-linecap="round"/><path d="M832 448.8L825 449.6" fill="none" stroke="#4A4189" stroke-width="1.1" stroke-linecap="round"/><path d="M817 449.3L810 447.9" fill="none" stroke="#4A4189" stroke-width="1.1" stroke-linecap="round"/><path d="M853 387L849 391.5" fill="none" stroke="#4A4189" stroke-width="1.1" stroke-linecap="round"/><path d="M846 396L843.5 402" fill="none" stroke="#4A4189" stroke-width="1.1" stroke-linecap="round"/><path d="M841.5 407L839 413" fill="none" stroke="#4A4189" stroke-width="1.1" stroke-linecap="round"/><path d="M836.5 418L833 424" fill="none" stroke="#4A4189" stroke-width="1.1" stroke-linecap="round"/><path d="M829 429L823 431" fill="none" stroke="#4A4189" stroke-width="1.1" stroke-linecap="round"/><path d="M879.7 388.7C881.2 388.7 882.9 388.8 884 390C885.1 391.2 886.4 394.4 886.1 396.2C885.8 398 883.8 399.6 882 401C880.2 402.4 877.1 403.2 875.4 404.7C873.7 406.2 873.1 408.2 872 410C870.9 411.8 870 413.3 869 415.3C868 417.3 867 419.9 866 422C865 424.1 863.9 427.4 862.7 428.1C861.5 428.8 859.9 427.1 859 426C858.1 424.9 857.5 423.5 857.3 421.7C857.1 419.9 857.4 417.1 857.8 415C858.2 412.9 858.7 410.9 859.5 408.9C860.3 406.9 861.3 404.8 862.5 403C863.7 401.2 865.5 399.9 866.9 398.3C868.3 396.7 869.6 394.9 871 393.5C872.4 392.1 873.5 390.8 875 390C876.5 389.2 878.2 388.7 879.7 388.7Z" fill="#F0672E" stroke="#E8502A" stroke-width="0.8"/><circle cx="865.7" cy="414.5" r="0.9" fill="#F6B13E"/><circle cx="863.1" cy="414.8" r="1" fill="#E3472C"/><circle cx="866" cy="412.3" r="0.9" fill="#F6B13E"/><circle cx="863.3" cy="411.9" r="1" fill="#E3472C"/><circle cx="860" cy="421.3" r="0.9" fill="#F6B13E"/><circle cx="862" cy="419.1" r="1" fill="#E3472C"/><circle cx="866.5" cy="419.5" r="0.9" fill="#F6B13E"/><circle cx="866.9" cy="418.9" r="1" fill="#E3472C"/><circle cx="878.8" cy="394.9" r="0.9" fill="#F6B13E"/><circle cx="877.5" cy="392.8" r="1" fill="#E3472C"/><circle cx="862.3" cy="422.1" r="0.9" fill="#F6B13E"/><circle cx="860.4" cy="422.6" r="1" fill="#E3472C"/><circle cx="873.7" cy="403.8" r="0.9" fill="#F6B13E"/><circle cx="871" cy="401.2" r="1" fill="#E3472C"/><circle cx="866.4" cy="417" r="0.9" fill="#F6B13E"/><circle cx="865.3" cy="417.5" r="1" fill="#E3472C"/><circle cx="869.3" cy="411.3" r="0.9" fill="#F6B13E"/><circle cx="870.5" cy="409.7" r="1" fill="#E3472C"/><circle cx="873.2" cy="407.9" r="0.9" fill="#F6B13E"/><circle cx="874.6" cy="406.6" r="1" fill="#E3472C"/><circle cx="879.3" cy="392.1" r="0.9" fill="#F6B13E"/><circle cx="880.8" cy="390.1" r="1" fill="#E3472C"/><circle cx="868.5" cy="409.4" r="0.9" fill="#F6B13E"/><circle cx="870.1" cy="409.8" r="1" fill="#E3472C"/><circle cx="878.3" cy="397.2" r="0.9" fill="#F6B13E"/><circle cx="878.8" cy="397.6" r="1" fill="#E3472C"/><circle cx="872.6" cy="412.1" r="0.9" fill="#F6B13E"/><circle cx="872.5" cy="413.1" r="1" fill="#E3472C"/><circle cx="863.5" cy="422.9" r="0.9" fill="#F6B13E"/><circle cx="866.4" cy="424.9" r="1" fill="#E3472C"/><circle cx="866.3" cy="415.9" r="0.9" fill="#F6B13E"/><circle cx="863.4" cy="415.7" r="1" fill="#E3472C"/><path d="M759.5 418.5C760.1 418.9 761.6 420.1 763.2 421C764.8 422 767.3 422.6 768.9 424C770.4 425.5 770.5 428.3 772.6 429.6C774.7 430.9 778.8 430.3 781.6 431.9C784.5 433.4 786.8 437.6 789.8 438.9C792.7 440.2 797.8 439.6 799.4 439.8" fill="none" stroke="#C81E5C" stroke-width="7" stroke-linecap="round" stroke-linejoin="round"/><path d="M759.5 418.5C760.1 418.9 761.6 420.1 763.2 421C764.8 422 767.3 422.6 768.9 424C770.4 425.5 770.5 428.3 772.6 429.6C774.7 430.9 778.8 430.3 781.6 431.9C784.5 433.4 786.8 437.6 789.8 438.9C792.7 440.2 797.8 439.6 799.4 439.8" fill="none" stroke="#E8457E" stroke-width="4.8" stroke-linecap="round" stroke-linejoin="round"/><path d="M759.5 418.5C760.1 418.9 761.6 420.1 763.2 421C764.8 422 767.3 422.6 768.9 424C770.4 425.5 770.5 428.3 772.6 429.6C774.7 430.9 778.8 430.3 781.6 431.9C784.5 433.4 786.8 437.6 789.8 438.9C792.7 440.2 796.5 438.8 799.4 439.8C802.3 440.7 804.3 443.9 807 444.5C809.8 445.1 813.1 443.1 816.1 443.3C819 443.5 822.2 445.9 824.6 445.5C827 445.1 828.3 442 830.5 441C832.7 440.1 836.1 441 837.9 439.7C839.6 438.4 839.5 435 841 433.2C842.5 431.3 845.8 430.7 846.8 428.7C847.7 426.6 846 423.3 846.8 421.1C847.5 418.9 850.6 417.7 851.2 415.7C851.7 413.6 849.6 410.7 850.3 408.6C850.9 406.5 854.1 404.8 855.2 403.2C856.4 401.6 856.7 399.7 857 399" fill="none" stroke="#C81E5C" stroke-width="5.2" stroke-linecap="round" stroke-linejoin="round"/><path d="M759.5 418.5C760.1 418.9 761.6 420.1 763.2 421C764.8 422 767.3 422.6 768.9 424C770.4 425.5 770.5 428.3 772.6 429.6C774.7 430.9 778.8 430.3 781.6 431.9C784.5 433.4 786.8 437.6 789.8 438.9C792.7 440.2 796.5 438.8 799.4 439.8C802.3 440.7 804.3 443.9 807 444.5C809.8 445.1 813.1 443.1 816.1 443.3C819 443.5 822.2 445.9 824.6 445.5C827 445.1 828.3 442 830.5 441C832.7 440.1 836.1 441 837.9 439.7C839.6 438.4 839.5 435 841 433.2C842.5 431.3 845.8 430.7 846.8 428.7C847.7 426.6 846 423.3 846.8 421.1C847.5 418.9 850.6 417.7 851.2 415.7C851.7 413.6 849.6 410.7 850.3 408.6C850.9 406.5 854.1 404.8 855.2 403.2C856.4 401.6 856.7 399.7 857 399" fill="none" stroke="#E8457E" stroke-width="3.2" stroke-linecap="round" stroke-linejoin="round"/><path d="M759.5 416.1L759.5 420.9" fill="none" stroke="#C2185A" stroke-width="1" stroke-linecap="round"/><path d="M769.7 421.8L768 426.3" fill="none" stroke="#C2185A" stroke-width="1" stroke-linecap="round"/><path d="M776.3 428.5L778 433" fill="none" stroke="#C2185A" stroke-width="1" stroke-linecap="round"/><path d="M785.9 433L785.5 437.8" fill="none" stroke="#C2185A" stroke-width="1" stroke-linecap="round"/><path d="M793.4 437.2L795.8 441.4" fill="none" stroke="#C2185A" stroke-width="1" stroke-linecap="round"/><path d="M803.1 439.7L803.4 444.5" fill="none" stroke="#C2185A" stroke-width="1" stroke-linecap="round"/><path d="M809.9 442.1L813.2 445.7" fill="none" stroke="#C2185A" stroke-width="1" stroke-linecap="round"/><path d="M819.5 442.1L821.2 446.6" fill="none" stroke="#C2185A" stroke-width="1" stroke-linecap="round"/><path d="M828.8 439.3L832.2 442.7" fill="none" stroke="#C2185A" stroke-width="1" stroke-linecap="round"/><path d="M838.7 432.5L843.3 433.9" fill="none" stroke="#C2185A" stroke-width="1" stroke-linecap="round"/><path d="M844.4 420.9L849.2 421.2" fill="none" stroke="#C2185A" stroke-width="1" stroke-linecap="round"/><path d="M847.9 408.3L852.6 408.9" fill="none" stroke="#C2185A" stroke-width="1" stroke-linecap="round"/><circle cx="763.2" cy="421" r="0.9" fill="#F7A8C4"/><circle cx="772.6" cy="429.6" r="0.9" fill="#F7A8C4"/><circle cx="781.6" cy="431.9" r="0.9" fill="#F7A8C4"/><circle cx="789.8" cy="438.9" r="0.9" fill="#F7A8C4"/><circle cx="799.4" cy="439.8" r="0.9" fill="#F7A8C4"/><circle cx="807" cy="444.5" r="0.9" fill="#F7A8C4"/><circle cx="816.1" cy="443.3" r="0.9" fill="#F7A8C4"/><circle cx="824.6" cy="445.5" r="0.9" fill="#F7A8C4"/><circle cx="837.9" cy="439.7" r="0.9" fill="#F7A8C4"/><circle cx="846.8" cy="428.7" r="0.9" fill="#F7A8C4"/><circle cx="851.2" cy="415.7" r="0.9" fill="#F7A8C4"/><circle cx="855.2" cy="403.2" r="0.9" fill="#F7A8C4"/><circle cx="760.5" cy="418.8" r="3.2" fill="#E23A75" stroke="#C81E5C" stroke-width="1"/><polyline points="892.5,346.5 886.1,346.5 880.3,373.5" fill="none" stroke="#111" stroke-width="1.6" stroke-linejoin="round"/><polyline points="814.5,363.4 877.4,396.1" fill="none" stroke="#111" stroke-width="1.6" stroke-linejoin="round"/><polyline points="779,437 779,521.7" fill="none" stroke="#111" stroke-width="1.6" stroke-linejoin="round"/></g>
<g class="labels" opacity="0.999">
<text x="94.2" y="49.3" textLength="164.8" lengthAdjust="spacingAndGlyphs" class="t">ONSET OF LABOUR</text>
<text x="415.9" y="49.3" textLength="74.1" lengthAdjust="spacingAndGlyphs" class="t">FLEXION</text>
<text x="703.5" y="49.3" textLength="270" lengthAdjust="spacingAndGlyphs" class="t">INTERNAL ROTATION OF HEAD</text>
<text x="93.5" y="321.6" textLength="99.1" lengthAdjust="spacingAndGlyphs" class="t">EXTENSION</text>
<text x="345.5" y="321.6" textLength="273" lengthAdjust="spacingAndGlyphs" class="t">EXTERNAL ROTATION OF HEAD</text>
<text x="667" y="321.6" textLength="324" lengthAdjust="spacingAndGlyphs" class="t">UTERUS IMMEDIATELY AFTER BIRTH</text>
<text x="119" y="85.6" textLength="72" lengthAdjust="spacingAndGlyphs" class="l">symphysis</text>
<text x="117.9" y="106" textLength="35.6" lengthAdjust="spacingAndGlyphs" class="l">pubis</text>
<text x="242.5" y="97" textLength="48.5" lengthAdjust="spacingAndGlyphs" class="l">bladder</text>
<text x="325" y="119.6" textLength="43.5" lengthAdjust="spacingAndGlyphs" class="l">uterus</text>
<text x="109" y="154" textLength="45.2" lengthAdjust="spacingAndGlyphs" class="l">cervix</text>
<text x="109" y="188.3" textLength="41.5" lengthAdjust="spacingAndGlyphs" class="l">vagina</text>
<text x="100" y="257.4" textLength="48.1" lengthAdjust="spacingAndGlyphs" class="l">rectum</text>
<text x="224.9" y="290.3" textLength="50.1" lengthAdjust="spacingAndGlyphs" class="l">sacrum</text>
<text x="679" y="367.7" textLength="131.5" lengthAdjust="spacingAndGlyphs" class="l">placenta separating</text>
<text x="680.5" y="388" textLength="118.5" lengthAdjust="spacingAndGlyphs" class="l">from uterine wall</text>
<text x="896" y="350.9" textLength="44.1" lengthAdjust="spacingAndGlyphs" class="l">uterus</text>
<text x="745.5" y="537" textLength="95" lengthAdjust="spacingAndGlyphs" class="l">umbilical cord</text>
</g>
</svg>
</body></html>
